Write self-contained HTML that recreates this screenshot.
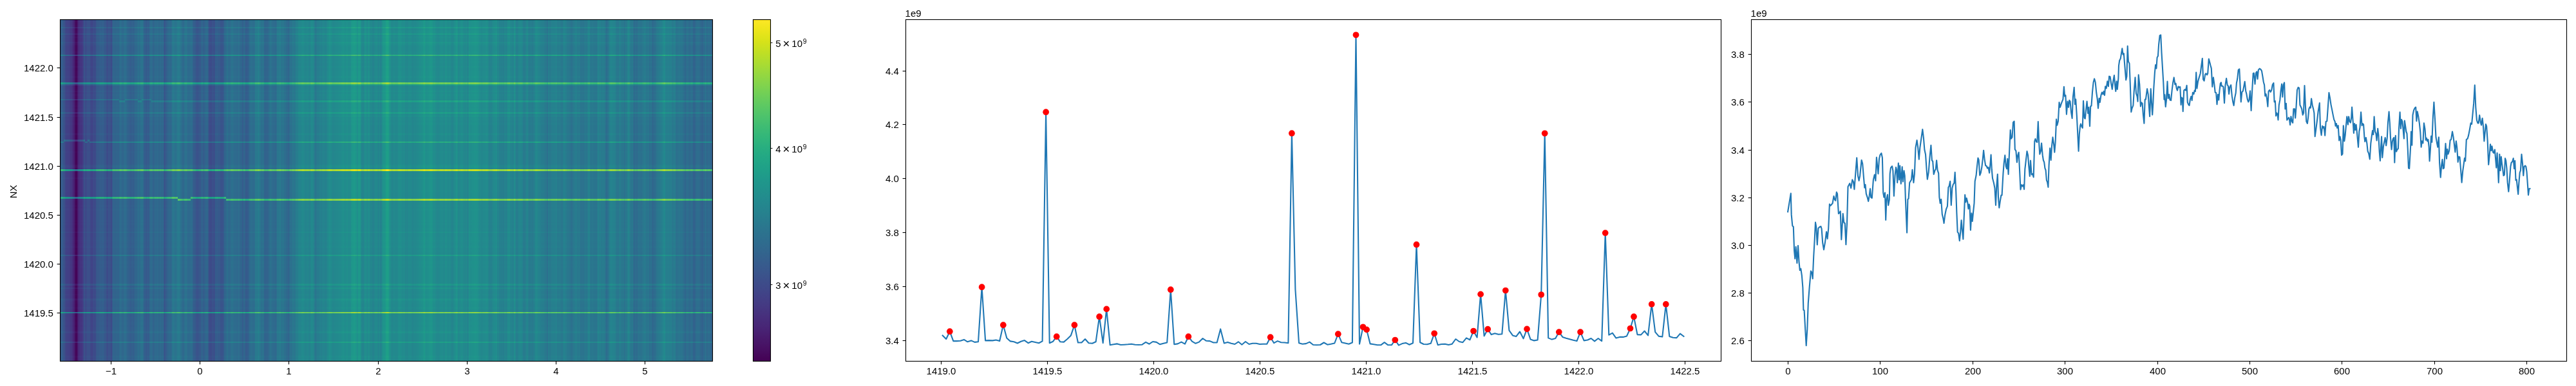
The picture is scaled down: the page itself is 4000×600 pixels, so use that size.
<!DOCTYPE html>
<html><head><meta charset="utf-8"><title>figure</title>
<style>
html,body{margin:0;padding:0;background:#fff;}
body{width:4000px;height:600px;overflow:hidden;}
svg{display:block;will-change:transform;}
text{font-family:"Liberation Sans",sans-serif;fill:#000;}
</style></head><body>
<svg width="4000" height="600" viewBox="0 0 4000 600">
<rect x="0" y="0" width="4000" height="600" fill="#ffffff"/>
<defs><filter id="vf" x="0" y="0" width="1" height="1" color-interpolation-filters="sRGB"><feColorMatrix type="matrix" values="1 1 0 0 0 1 1 0 0 0 1 1 0 0 0 0 0 0 0 1"/><feComponentTransfer><feFuncR type="table" tableValues="0.267 0.267 0.267 0.267 0.267 0.267 0.267 0.267 0.267 0.267 0.267 0.267 0.267 0.267 0.267 0.269 0.270 0.270 0.271 0.273 0.274 0.275 0.276 0.277 0.278 0.279 0.279 0.280 0.280 0.281 0.281 0.282 0.282 0.283 0.283 0.283 0.283 0.283 0.283 0.283 0.283 0.283 0.283 0.282 0.282 0.281 0.281 0.280 0.280 0.279 0.278 0.277 0.276 0.275 0.275 0.274 0.273 0.272 0.271 0.269 0.268 0.267 0.265 0.264 0.262 0.261 0.259 0.257 0.256 0.254 0.252 0.250 0.249 0.247 0.245 0.243 0.241 0.239 0.237 0.236 0.234 0.232 0.230 0.228 0.226 0.224 0.222 0.220 0.218 0.216 0.214 0.212 0.211 0.209 0.207 0.203 0.201 0.199 0.198 0.196 0.194 0.192 0.191 0.189 0.187 0.186 0.184 0.182 0.181 0.179 0.177 0.176 0.173 0.171 0.170 0.168 0.167 0.165 0.164 0.162 0.161 0.159 0.158 0.155 0.153 0.152 0.150 0.149 0.148 0.146 0.145 0.143 0.141 0.139 0.138 0.136 0.135 0.134 0.132 0.131 0.129 0.128 0.126 0.125 0.124 0.123 0.123 0.121 0.121 0.120 0.120 0.120 0.119 0.119 0.120 0.121 0.121 0.122 0.123 0.125 0.128 0.130 0.132 0.135 0.137 0.140 0.147 0.150 0.154 0.158 0.162 0.171 0.176 0.181 0.186 0.191 0.202 0.208 0.214 0.220 0.226 0.239 0.246 0.253 0.260 0.267 0.281 0.289 0.296 0.304 0.320 0.328 0.336 0.344 0.352 0.369 0.378 0.386 0.395 0.413 0.422 0.431 0.440 0.459 0.468 0.478 0.487 0.506 0.516 0.526 0.536 0.555 0.565 0.576 0.586 0.606 0.616 0.627 0.647 0.658 0.668 0.678 0.699 0.710 0.720 0.741 0.752 0.762 0.773 0.794 0.804 0.815 0.835 0.846 0.856 0.866 0.886 0.896 0.906 0.926 0.936 0.946 0.965 0.974 0.984 0.993 0.993 0.993 0.993 0.993 0.993 0.993 0.993 0.993 0.993 0.993"/><feFuncG type="table" tableValues="0.005 0.005 0.005 0.005 0.005 0.005 0.005 0.005 0.005 0.005 0.005 0.005 0.005 0.005 0.005 0.010 0.015 0.015 0.020 0.026 0.031 0.038 0.044 0.050 0.056 0.062 0.062 0.068 0.073 0.079 0.084 0.090 0.095 0.100 0.105 0.111 0.116 0.116 0.121 0.126 0.131 0.136 0.141 0.146 0.151 0.156 0.161 0.166 0.171 0.175 0.180 0.185 0.190 0.195 0.195 0.200 0.205 0.209 0.214 0.219 0.224 0.228 0.233 0.238 0.242 0.247 0.252 0.256 0.261 0.265 0.270 0.274 0.279 0.283 0.288 0.292 0.296 0.301 0.305 0.310 0.314 0.318 0.322 0.327 0.331 0.335 0.339 0.343 0.347 0.352 0.356 0.360 0.364 0.368 0.372 0.380 0.384 0.388 0.392 0.395 0.399 0.403 0.407 0.411 0.415 0.419 0.422 0.426 0.430 0.434 0.438 0.441 0.449 0.453 0.456 0.460 0.464 0.467 0.471 0.475 0.479 0.482 0.486 0.493 0.497 0.501 0.504 0.508 0.512 0.515 0.519 0.523 0.530 0.534 0.537 0.541 0.545 0.549 0.552 0.556 0.563 0.567 0.571 0.574 0.578 0.582 0.585 0.593 0.596 0.600 0.604 0.607 0.611 0.615 0.622 0.626 0.629 0.633 0.637 0.640 0.648 0.651 0.655 0.659 0.662 0.666 0.673 0.677 0.680 0.684 0.687 0.694 0.698 0.701 0.705 0.708 0.715 0.719 0.722 0.726 0.729 0.736 0.739 0.742 0.745 0.749 0.755 0.758 0.762 0.765 0.771 0.774 0.777 0.780 0.783 0.789 0.792 0.795 0.797 0.803 0.806 0.808 0.811 0.816 0.819 0.821 0.824 0.829 0.831 0.833 0.836 0.840 0.842 0.845 0.847 0.851 0.853 0.855 0.858 0.860 0.862 0.864 0.867 0.869 0.870 0.873 0.875 0.876 0.878 0.881 0.882 0.883 0.886 0.887 0.889 0.890 0.892 0.894 0.895 0.897 0.899 0.900 0.902 0.904 0.905 0.906 0.906 0.906 0.906 0.906 0.906 0.906 0.906 0.906 0.906 0.906"/><feFuncB type="table" tableValues="0.329 0.329 0.329 0.329 0.329 0.329 0.329 0.329 0.329 0.329 0.329 0.329 0.329 0.329 0.329 0.335 0.341 0.341 0.347 0.353 0.359 0.365 0.370 0.376 0.381 0.387 0.387 0.392 0.397 0.402 0.407 0.412 0.417 0.422 0.427 0.432 0.436 0.436 0.441 0.445 0.449 0.453 0.458 0.462 0.465 0.469 0.473 0.476 0.480 0.483 0.487 0.490 0.493 0.496 0.496 0.499 0.502 0.504 0.507 0.510 0.512 0.514 0.517 0.519 0.521 0.523 0.525 0.527 0.528 0.530 0.532 0.533 0.535 0.536 0.537 0.539 0.540 0.541 0.542 0.543 0.544 0.545 0.546 0.547 0.547 0.548 0.549 0.549 0.550 0.551 0.551 0.552 0.552 0.553 0.553 0.554 0.554 0.555 0.555 0.555 0.556 0.556 0.556 0.556 0.557 0.557 0.557 0.557 0.557 0.557 0.558 0.558 0.558 0.558 0.558 0.558 0.558 0.558 0.558 0.558 0.558 0.558 0.558 0.558 0.558 0.558 0.557 0.557 0.557 0.557 0.557 0.556 0.556 0.555 0.555 0.554 0.554 0.554 0.553 0.552 0.551 0.551 0.550 0.549 0.548 0.547 0.547 0.545 0.544 0.543 0.541 0.540 0.539 0.538 0.535 0.533 0.532 0.530 0.529 0.527 0.523 0.522 0.520 0.518 0.516 0.513 0.509 0.507 0.504 0.502 0.499 0.494 0.491 0.488 0.485 0.482 0.476 0.473 0.470 0.466 0.463 0.456 0.452 0.448 0.444 0.441 0.433 0.428 0.424 0.420 0.411 0.407 0.402 0.397 0.393 0.383 0.378 0.373 0.368 0.357 0.352 0.346 0.341 0.330 0.324 0.318 0.312 0.300 0.294 0.288 0.282 0.269 0.263 0.256 0.250 0.237 0.230 0.223 0.210 0.203 0.196 0.190 0.176 0.169 0.163 0.150 0.143 0.137 0.131 0.120 0.115 0.110 0.103 0.100 0.097 0.096 0.095 0.096 0.098 0.104 0.108 0.113 0.124 0.130 0.137 0.144 0.144 0.144 0.144 0.144 0.144 0.144 0.144 0.144 0.144 0.144"/><feFuncA type="linear" slope="0" intercept="1"/></feComponentTransfer></filter></defs>
<g filter="url(#vf)" style="isolation:isolate" shape-rendering="crispEdges">
<g><rect x="93.3" y="31.0" width="1013.00" height="531.0" fill="rgb(83,0,0)"/><rect x="94.56" y="31.0" width="1011.74" height="531.0" fill="rgb(86,0,0)"/><rect x="95.82" y="31.0" width="1010.48" height="531.0" fill="rgb(89,0,0)"/><rect x="97.08" y="31.0" width="1009.22" height="531.0" fill="rgb(86,0,0)"/><rect x="98.35" y="31.0" width="1007.95" height="531.0" fill="rgb(78,0,0)"/><rect x="99.61" y="31.0" width="1006.69" height="531.0" fill="rgb(75,0,0)"/><rect x="100.87" y="31.0" width="1005.43" height="531.0" fill="rgb(69,0,0)"/><rect x="102.13" y="31.0" width="1004.17" height="531.0" fill="rgb(61,0,0)"/><rect x="103.39" y="31.0" width="1002.91" height="531.0" fill="rgb(64,0,0)"/><rect x="104.65" y="31.0" width="1001.65" height="531.0" fill="rgb(60,0,0)"/><rect x="105.92" y="31.0" width="1000.38" height="531.0" fill="rgb(62,0,0)"/><rect x="108.44" y="31.0" width="997.86" height="531.0" fill="rgb(56,0,0)"/><rect x="109.70" y="31.0" width="996.60" height="531.0" fill="rgb(54,0,0)"/><rect x="110.96" y="31.0" width="995.34" height="531.0" fill="rgb(53,0,0)"/><rect x="112.22" y="31.0" width="994.08" height="531.0" fill="rgb(48,0,0)"/><rect x="113.48" y="31.0" width="992.82" height="531.0" fill="rgb(39,0,0)"/><rect x="114.75" y="31.0" width="991.55" height="531.0" fill="rgb(31,0,0)"/><rect x="116.01" y="31.0" width="990.29" height="531.0" fill="rgb(23,0,0)"/><rect x="117.27" y="31.0" width="989.03" height="531.0" fill="rgb(13,0,0)"/><rect x="118.53" y="31.0" width="987.77" height="531.0" fill="rgb(15,0,0)"/><rect x="119.79" y="31.0" width="986.51" height="531.0" fill="rgb(27,0,0)"/><rect x="121.05" y="31.0" width="985.25" height="531.0" fill="rgb(38,0,0)"/><rect x="122.31" y="31.0" width="983.99" height="531.0" fill="rgb(45,0,0)"/><rect x="123.58" y="31.0" width="982.72" height="531.0" fill="rgb(51,0,0)"/><rect x="124.84" y="31.0" width="981.46" height="531.0" fill="rgb(52,0,0)"/><rect x="126.10" y="31.0" width="980.20" height="531.0" fill="rgb(50,0,0)"/><rect x="127.36" y="31.0" width="978.94" height="531.0" fill="rgb(56,0,0)"/><rect x="128.62" y="31.0" width="977.68" height="531.0" fill="rgb(65,0,0)"/><rect x="129.88" y="31.0" width="976.42" height="531.0" fill="rgb(74,0,0)"/><rect x="131.15" y="31.0" width="975.15" height="531.0" fill="rgb(76,0,0)"/><rect x="132.41" y="31.0" width="973.89" height="531.0" fill="rgb(69,0,0)"/><rect x="133.67" y="31.0" width="972.63" height="531.0" fill="rgb(72,0,0)"/><rect x="134.93" y="31.0" width="971.37" height="531.0" fill="rgb(75,0,0)"/><rect x="138.71" y="31.0" width="967.59" height="531.0" fill="rgb(74,0,0)"/><rect x="139.98" y="31.0" width="966.32" height="531.0" fill="rgb(68,0,0)"/><rect x="141.24" y="31.0" width="965.06" height="531.0" fill="rgb(65,0,0)"/><rect x="143.76" y="31.0" width="962.54" height="531.0" fill="rgb(68,0,0)"/><rect x="145.02" y="31.0" width="961.28" height="531.0" fill="rgb(72,0,0)"/><rect x="146.28" y="31.0" width="960.02" height="531.0" fill="rgb(70,0,0)"/><rect x="147.55" y="31.0" width="958.75" height="531.0" fill="rgb(72,0,0)"/><rect x="148.81" y="31.0" width="957.49" height="531.0" fill="rgb(80,0,0)"/><rect x="150.07" y="31.0" width="956.23" height="531.0" fill="rgb(85,0,0)"/><rect x="152.59" y="31.0" width="953.71" height="531.0" fill="rgb(86,0,0)"/><rect x="155.11" y="31.0" width="951.19" height="531.0" fill="rgb(89,0,0)"/><rect x="156.38" y="31.0" width="949.92" height="531.0" fill="rgb(88,0,0)"/><rect x="157.64" y="31.0" width="948.66" height="531.0" fill="rgb(87,0,0)"/><rect x="158.90" y="31.0" width="947.40" height="531.0" fill="rgb(90,0,0)"/><rect x="161.42" y="31.0" width="944.88" height="531.0" fill="rgb(84,0,0)"/><rect x="162.68" y="31.0" width="943.62" height="531.0" fill="rgb(81,0,0)"/><rect x="163.95" y="31.0" width="942.35" height="531.0" fill="rgb(82,0,0)"/><rect x="165.21" y="31.0" width="941.09" height="531.0" fill="rgb(74,0,0)"/><rect x="166.47" y="31.0" width="939.83" height="531.0" fill="rgb(73,0,0)"/><rect x="167.73" y="31.0" width="938.57" height="531.0" fill="rgb(80,0,0)"/><rect x="168.99" y="31.0" width="937.31" height="531.0" fill="rgb(78,0,0)"/><rect x="170.25" y="31.0" width="936.05" height="531.0" fill="rgb(77,0,0)"/><rect x="171.51" y="31.0" width="934.79" height="531.0" fill="rgb(70,0,0)"/><rect x="172.78" y="31.0" width="933.52" height="531.0" fill="rgb(72,0,0)"/><rect x="174.04" y="31.0" width="932.26" height="531.0" fill="rgb(85,0,0)"/><rect x="175.30" y="31.0" width="931.00" height="531.0" fill="rgb(94,0,0)"/><rect x="179.08" y="31.0" width="927.22" height="531.0" fill="rgb(93,0,0)"/><rect x="180.34" y="31.0" width="925.96" height="531.0" fill="rgb(95,0,0)"/><rect x="181.61" y="31.0" width="924.69" height="531.0" fill="rgb(96,0,0)"/><rect x="182.87" y="31.0" width="923.43" height="531.0" fill="rgb(94,0,0)"/><rect x="184.13" y="31.0" width="922.17" height="531.0" fill="rgb(95,0,0)"/><rect x="185.39" y="31.0" width="920.91" height="531.0" fill="rgb(100,0,0)"/><rect x="186.65" y="31.0" width="919.65" height="531.0" fill="rgb(105,0,0)"/><rect x="187.91" y="31.0" width="918.39" height="531.0" fill="rgb(100,0,0)"/><rect x="189.18" y="31.0" width="917.12" height="531.0" fill="rgb(97,0,0)"/><rect x="191.70" y="31.0" width="914.60" height="531.0" fill="rgb(100,0,0)"/><rect x="192.96" y="31.0" width="913.34" height="531.0" fill="rgb(103,0,0)"/><rect x="194.22" y="31.0" width="912.08" height="531.0" fill="rgb(104,0,0)"/><rect x="195.48" y="31.0" width="910.82" height="531.0" fill="rgb(100,0,0)"/><rect x="196.74" y="31.0" width="909.56" height="531.0" fill="rgb(95,0,0)"/><rect x="198.01" y="31.0" width="908.29" height="531.0" fill="rgb(93,0,0)"/><rect x="199.27" y="31.0" width="907.03" height="531.0" fill="rgb(92,0,0)"/><rect x="200.53" y="31.0" width="905.77" height="531.0" fill="rgb(89,0,0)"/><rect x="201.79" y="31.0" width="904.51" height="531.0" fill="rgb(88,0,0)"/><rect x="204.31" y="31.0" width="901.99" height="531.0" fill="rgb(90,0,0)"/><rect x="205.58" y="31.0" width="900.72" height="531.0" fill="rgb(91,0,0)"/><rect x="206.84" y="31.0" width="899.46" height="531.0" fill="rgb(88,0,0)"/><rect x="208.10" y="31.0" width="898.20" height="531.0" fill="rgb(91,0,0)"/><rect x="209.36" y="31.0" width="896.94" height="531.0" fill="rgb(96,0,0)"/><rect x="210.62" y="31.0" width="895.68" height="531.0" fill="rgb(98,0,0)"/><rect x="211.88" y="31.0" width="894.42" height="531.0" fill="rgb(97,0,0)"/><rect x="213.14" y="31.0" width="893.16" height="531.0" fill="rgb(101,0,0)"/><rect x="214.41" y="31.0" width="891.89" height="531.0" fill="rgb(104,0,0)"/><rect x="215.67" y="31.0" width="890.63" height="531.0" fill="rgb(100,0,0)"/><rect x="216.93" y="31.0" width="889.37" height="531.0" fill="rgb(103,0,0)"/><rect x="218.19" y="31.0" width="888.11" height="531.0" fill="rgb(106,0,0)"/><rect x="219.45" y="31.0" width="886.85" height="531.0" fill="rgb(107,0,0)"/><rect x="221.97" y="31.0" width="884.33" height="531.0" fill="rgb(103,0,0)"/><rect x="223.24" y="31.0" width="883.06" height="531.0" fill="rgb(90,0,0)"/><rect x="224.50" y="31.0" width="881.80" height="531.0" fill="rgb(89,0,0)"/><rect x="225.76" y="31.0" width="880.54" height="531.0" fill="rgb(86,0,0)"/><rect x="227.02" y="31.0" width="879.28" height="531.0" fill="rgb(84,0,0)"/><rect x="228.28" y="31.0" width="878.02" height="531.0" fill="rgb(89,0,0)"/><rect x="229.54" y="31.0" width="876.76" height="531.0" fill="rgb(87,0,0)"/><rect x="232.07" y="31.0" width="874.23" height="531.0" fill="rgb(98,0,0)"/><rect x="233.33" y="31.0" width="872.97" height="531.0" fill="rgb(101,0,0)"/><rect x="234.59" y="31.0" width="871.71" height="531.0" fill="rgb(102,0,0)"/><rect x="235.85" y="31.0" width="870.45" height="531.0" fill="rgb(101,0,0)"/><rect x="237.11" y="31.0" width="869.19" height="531.0" fill="rgb(93,0,0)"/><rect x="238.37" y="31.0" width="867.93" height="531.0" fill="rgb(94,0,0)"/><rect x="239.64" y="31.0" width="866.66" height="531.0" fill="rgb(100,0,0)"/><rect x="240.90" y="31.0" width="865.40" height="531.0" fill="rgb(101,0,0)"/><rect x="242.16" y="31.0" width="864.14" height="531.0" fill="rgb(95,0,0)"/><rect x="243.42" y="31.0" width="862.88" height="531.0" fill="rgb(102,0,0)"/><rect x="244.68" y="31.0" width="861.62" height="531.0" fill="rgb(96,0,0)"/><rect x="245.94" y="31.0" width="860.36" height="531.0" fill="rgb(101,0,0)"/><rect x="247.21" y="31.0" width="859.09" height="531.0" fill="rgb(95,0,0)"/><rect x="248.47" y="31.0" width="857.83" height="531.0" fill="rgb(100,0,0)"/><rect x="249.73" y="31.0" width="856.57" height="531.0" fill="rgb(96,0,0)"/><rect x="250.99" y="31.0" width="855.31" height="531.0" fill="rgb(99,0,0)"/><rect x="252.25" y="31.0" width="854.05" height="531.0" fill="rgb(98,0,0)"/><rect x="253.51" y="31.0" width="852.79" height="531.0" fill="rgb(87,0,0)"/><rect x="254.77" y="31.0" width="851.53" height="531.0" fill="rgb(77,0,0)"/><rect x="256.04" y="31.0" width="850.26" height="531.0" fill="rgb(82,0,0)"/><rect x="257.30" y="31.0" width="849.00" height="531.0" fill="rgb(88,0,0)"/><rect x="258.56" y="31.0" width="847.74" height="531.0" fill="rgb(93,0,0)"/><rect x="259.82" y="31.0" width="846.48" height="531.0" fill="rgb(95,0,0)"/><rect x="261.08" y="31.0" width="845.22" height="531.0" fill="rgb(96,0,0)"/><rect x="262.34" y="31.0" width="843.96" height="531.0" fill="rgb(99,0,0)"/><rect x="263.61" y="31.0" width="842.69" height="531.0" fill="rgb(98,0,0)"/><rect x="264.87" y="31.0" width="841.43" height="531.0" fill="rgb(96,0,0)"/><rect x="266.13" y="31.0" width="840.17" height="531.0" fill="rgb(102,0,0)"/><rect x="267.39" y="31.0" width="838.91" height="531.0" fill="rgb(110,0,0)"/><rect x="268.65" y="31.0" width="837.65" height="531.0" fill="rgb(112,0,0)"/><rect x="269.91" y="31.0" width="836.39" height="531.0" fill="rgb(111,0,0)"/><rect x="271.17" y="31.0" width="835.13" height="531.0" fill="rgb(107,0,0)"/><rect x="273.70" y="31.0" width="832.60" height="531.0" fill="rgb(111,0,0)"/><rect x="274.96" y="31.0" width="831.34" height="531.0" fill="rgb(113,0,0)"/><rect x="276.22" y="31.0" width="830.08" height="531.0" fill="rgb(116,0,0)"/><rect x="277.48" y="31.0" width="828.82" height="531.0" fill="rgb(115,0,0)"/><rect x="278.74" y="31.0" width="827.56" height="531.0" fill="rgb(111,0,0)"/><rect x="280.00" y="31.0" width="826.30" height="531.0" fill="rgb(108,0,0)"/><rect x="281.27" y="31.0" width="825.03" height="531.0" fill="rgb(105,0,0)"/><rect x="282.53" y="31.0" width="823.77" height="531.0" fill="rgb(99,0,0)"/><rect x="283.79" y="31.0" width="822.51" height="531.0" fill="rgb(97,0,0)"/><rect x="285.05" y="31.0" width="821.25" height="531.0" fill="rgb(100,0,0)"/><rect x="286.31" y="31.0" width="819.99" height="531.0" fill="rgb(105,0,0)"/><rect x="287.57" y="31.0" width="818.73" height="531.0" fill="rgb(109,0,0)"/><rect x="288.84" y="31.0" width="817.46" height="531.0" fill="rgb(107,0,0)"/><rect x="290.10" y="31.0" width="816.20" height="531.0" fill="rgb(104,0,0)"/><rect x="291.36" y="31.0" width="814.94" height="531.0" fill="rgb(101,0,0)"/><rect x="292.62" y="31.0" width="813.68" height="531.0" fill="rgb(99,0,0)"/><rect x="293.88" y="31.0" width="812.42" height="531.0" fill="rgb(100,0,0)"/><rect x="295.14" y="31.0" width="811.16" height="531.0" fill="rgb(102,0,0)"/><rect x="296.40" y="31.0" width="809.90" height="531.0" fill="rgb(103,0,0)"/><rect x="297.67" y="31.0" width="808.63" height="531.0" fill="rgb(100,0,0)"/><rect x="298.93" y="31.0" width="807.37" height="531.0" fill="rgb(95,0,0)"/><rect x="300.19" y="31.0" width="806.11" height="531.0" fill="rgb(87,0,0)"/><rect x="302.71" y="31.0" width="803.59" height="531.0" fill="rgb(85,0,0)"/><rect x="303.97" y="31.0" width="802.33" height="531.0" fill="rgb(80,0,0)"/><rect x="305.24" y="31.0" width="801.06" height="531.0" fill="rgb(78,0,0)"/><rect x="307.76" y="31.0" width="798.54" height="531.0" fill="rgb(81,0,0)"/><rect x="309.02" y="31.0" width="797.28" height="531.0" fill="rgb(83,0,0)"/><rect x="310.28" y="31.0" width="796.02" height="531.0" fill="rgb(84,0,0)"/><rect x="311.54" y="31.0" width="794.76" height="531.0" fill="rgb(91,0,0)"/><rect x="312.80" y="31.0" width="793.50" height="531.0" fill="rgb(93,0,0)"/><rect x="314.07" y="31.0" width="792.23" height="531.0" fill="rgb(95,0,0)"/><rect x="315.33" y="31.0" width="790.97" height="531.0" fill="rgb(88,0,0)"/><rect x="316.59" y="31.0" width="789.71" height="531.0" fill="rgb(90,0,0)"/><rect x="317.85" y="31.0" width="788.45" height="531.0" fill="rgb(94,0,0)"/><rect x="319.11" y="31.0" width="787.19" height="531.0" fill="rgb(95,0,0)"/><rect x="320.37" y="31.0" width="785.93" height="531.0" fill="rgb(97,0,0)"/><rect x="321.63" y="31.0" width="784.67" height="531.0" fill="rgb(95,0,0)"/><rect x="322.90" y="31.0" width="783.40" height="531.0" fill="rgb(86,0,0)"/><rect x="324.16" y="31.0" width="782.14" height="531.0" fill="rgb(75,0,0)"/><rect x="325.42" y="31.0" width="780.88" height="531.0" fill="rgb(72,0,0)"/><rect x="326.68" y="31.0" width="779.62" height="531.0" fill="rgb(70,0,0)"/><rect x="327.94" y="31.0" width="778.36" height="531.0" fill="rgb(71,0,0)"/><rect x="329.20" y="31.0" width="777.10" height="531.0" fill="rgb(76,0,0)"/><rect x="330.47" y="31.0" width="775.83" height="531.0" fill="rgb(75,0,0)"/><rect x="331.73" y="31.0" width="774.57" height="531.0" fill="rgb(71,0,0)"/><rect x="332.99" y="31.0" width="773.31" height="531.0" fill="rgb(77,0,0)"/><rect x="334.25" y="31.0" width="772.05" height="531.0" fill="rgb(87,0,0)"/><rect x="336.77" y="31.0" width="769.53" height="531.0" fill="rgb(88,0,0)"/><rect x="338.03" y="31.0" width="768.27" height="531.0" fill="rgb(87,0,0)"/><rect x="339.30" y="31.0" width="767.00" height="531.0" fill="rgb(84,0,0)"/><rect x="340.56" y="31.0" width="765.74" height="531.0" fill="rgb(85,0,0)"/><rect x="341.82" y="31.0" width="764.48" height="531.0" fill="rgb(78,0,0)"/><rect x="344.34" y="31.0" width="761.96" height="531.0" fill="rgb(79,0,0)"/><rect x="345.60" y="31.0" width="760.70" height="531.0" fill="rgb(81,0,0)"/><rect x="346.87" y="31.0" width="759.43" height="531.0" fill="rgb(85,0,0)"/><rect x="348.13" y="31.0" width="758.17" height="531.0" fill="rgb(95,0,0)"/><rect x="349.39" y="31.0" width="756.91" height="531.0" fill="rgb(97,0,0)"/><rect x="350.65" y="31.0" width="755.65" height="531.0" fill="rgb(100,0,0)"/><rect x="351.91" y="31.0" width="754.39" height="531.0" fill="rgb(104,0,0)"/><rect x="353.17" y="31.0" width="753.13" height="531.0" fill="rgb(105,0,0)"/><rect x="354.43" y="31.0" width="751.87" height="531.0" fill="rgb(100,0,0)"/><rect x="355.70" y="31.0" width="750.60" height="531.0" fill="rgb(99,0,0)"/><rect x="356.96" y="31.0" width="749.34" height="531.0" fill="rgb(101,0,0)"/><rect x="358.22" y="31.0" width="748.08" height="531.0" fill="rgb(103,0,0)"/><rect x="359.48" y="31.0" width="746.82" height="531.0" fill="rgb(107,0,0)"/><rect x="360.74" y="31.0" width="745.56" height="531.0" fill="rgb(106,0,0)"/><rect x="362.00" y="31.0" width="744.30" height="531.0" fill="rgb(104,0,0)"/><rect x="363.27" y="31.0" width="743.03" height="531.0" fill="rgb(102,0,0)"/><rect x="365.79" y="31.0" width="740.51" height="531.0" fill="rgb(101,0,0)"/><rect x="368.31" y="31.0" width="737.99" height="531.0" fill="rgb(100,0,0)"/><rect x="369.57" y="31.0" width="736.73" height="531.0" fill="rgb(105,0,0)"/><rect x="370.83" y="31.0" width="735.47" height="531.0" fill="rgb(103,0,0)"/><rect x="372.10" y="31.0" width="734.20" height="531.0" fill="rgb(98,0,0)"/><rect x="373.36" y="31.0" width="732.94" height="531.0" fill="rgb(96,0,0)"/><rect x="374.62" y="31.0" width="731.68" height="531.0" fill="rgb(94,0,0)"/><rect x="375.88" y="31.0" width="730.42" height="531.0" fill="rgb(89,0,0)"/><rect x="378.40" y="31.0" width="727.90" height="531.0" fill="rgb(96,0,0)"/><rect x="379.66" y="31.0" width="726.64" height="531.0" fill="rgb(94,0,0)"/><rect x="380.93" y="31.0" width="725.37" height="531.0" fill="rgb(86,0,0)"/><rect x="383.45" y="31.0" width="722.85" height="531.0" fill="rgb(88,0,0)"/><rect x="384.71" y="31.0" width="721.59" height="531.0" fill="rgb(90,0,0)"/><rect x="385.97" y="31.0" width="720.33" height="531.0" fill="rgb(94,0,0)"/><rect x="387.23" y="31.0" width="719.07" height="531.0" fill="rgb(101,0,0)"/><rect x="388.50" y="31.0" width="717.80" height="531.0" fill="rgb(105,0,0)"/><rect x="391.02" y="31.0" width="715.28" height="531.0" fill="rgb(102,0,0)"/><rect x="392.28" y="31.0" width="714.02" height="531.0" fill="rgb(103,0,0)"/><rect x="393.54" y="31.0" width="712.76" height="531.0" fill="rgb(101,0,0)"/><rect x="394.80" y="31.0" width="711.50" height="531.0" fill="rgb(105,0,0)"/><rect x="396.06" y="31.0" width="710.24" height="531.0" fill="rgb(113,0,0)"/><rect x="397.33" y="31.0" width="708.97" height="531.0" fill="rgb(114,0,0)"/><rect x="398.59" y="31.0" width="707.71" height="531.0" fill="rgb(113,0,0)"/><rect x="399.85" y="31.0" width="706.45" height="531.0" fill="rgb(117,0,0)"/><rect x="401.11" y="31.0" width="705.19" height="531.0" fill="rgb(120,0,0)"/><rect x="402.37" y="31.0" width="703.93" height="531.0" fill="rgb(114,0,0)"/><rect x="403.63" y="31.0" width="702.67" height="531.0" fill="rgb(109,0,0)"/><rect x="404.90" y="31.0" width="701.40" height="531.0" fill="rgb(106,0,0)"/><rect x="406.16" y="31.0" width="700.14" height="531.0" fill="rgb(105,0,0)"/><rect x="407.42" y="31.0" width="698.88" height="531.0" fill="rgb(107,0,0)"/><rect x="408.68" y="31.0" width="697.62" height="531.0" fill="rgb(104,0,0)"/><rect x="409.94" y="31.0" width="696.36" height="531.0" fill="rgb(96,0,0)"/><rect x="411.20" y="31.0" width="695.10" height="531.0" fill="rgb(93,0,0)"/><rect x="412.46" y="31.0" width="693.84" height="531.0" fill="rgb(94,0,0)"/><rect x="414.99" y="31.0" width="691.31" height="531.0" fill="rgb(93,0,0)"/><rect x="416.25" y="31.0" width="690.05" height="531.0" fill="rgb(98,0,0)"/><rect x="417.51" y="31.0" width="688.79" height="531.0" fill="rgb(103,0,0)"/><rect x="418.77" y="31.0" width="687.53" height="531.0" fill="rgb(107,0,0)"/><rect x="421.30" y="31.0" width="685.00" height="531.0" fill="rgb(104,0,0)"/><rect x="422.56" y="31.0" width="683.74" height="531.0" fill="rgb(100,0,0)"/><rect x="423.82" y="31.0" width="682.48" height="531.0" fill="rgb(102,0,0)"/><rect x="425.08" y="31.0" width="681.22" height="531.0" fill="rgb(101,0,0)"/><rect x="426.34" y="31.0" width="679.96" height="531.0" fill="rgb(99,0,0)"/><rect x="427.60" y="31.0" width="678.70" height="531.0" fill="rgb(98,0,0)"/><rect x="428.86" y="31.0" width="677.44" height="531.0" fill="rgb(104,0,0)"/><rect x="430.13" y="31.0" width="676.17" height="531.0" fill="rgb(112,0,0)"/><rect x="433.91" y="31.0" width="672.39" height="531.0" fill="rgb(116,0,0)"/><rect x="435.17" y="31.0" width="671.13" height="531.0" fill="rgb(115,0,0)"/><rect x="436.43" y="31.0" width="669.87" height="531.0" fill="rgb(108,0,0)"/><rect x="438.96" y="31.0" width="667.34" height="531.0" fill="rgb(111,0,0)"/><rect x="440.22" y="31.0" width="666.08" height="531.0" fill="rgb(108,0,0)"/><rect x="441.48" y="31.0" width="664.82" height="531.0" fill="rgb(105,0,0)"/><rect x="442.74" y="31.0" width="663.56" height="531.0" fill="rgb(104,0,0)"/><rect x="444.00" y="31.0" width="662.30" height="531.0" fill="rgb(101,0,0)"/><rect x="445.26" y="31.0" width="661.04" height="531.0" fill="rgb(99,0,0)"/><rect x="446.53" y="31.0" width="659.77" height="531.0" fill="rgb(96,0,0)"/><rect x="447.79" y="31.0" width="658.51" height="531.0" fill="rgb(94,0,0)"/><rect x="449.05" y="31.0" width="657.25" height="531.0" fill="rgb(100,0,0)"/><rect x="450.31" y="31.0" width="655.99" height="531.0" fill="rgb(107,0,0)"/><rect x="451.57" y="31.0" width="654.73" height="531.0" fill="rgb(106,0,0)"/><rect x="452.83" y="31.0" width="653.47" height="531.0" fill="rgb(108,0,0)"/><rect x="454.09" y="31.0" width="652.21" height="531.0" fill="rgb(113,0,0)"/><rect x="455.36" y="31.0" width="650.94" height="531.0" fill="rgb(112,0,0)"/><rect x="456.62" y="31.0" width="649.68" height="531.0" fill="rgb(109,0,0)"/><rect x="457.88" y="31.0" width="648.42" height="531.0" fill="rgb(111,0,0)"/><rect x="459.14" y="31.0" width="647.16" height="531.0" fill="rgb(119,0,0)"/><rect x="461.66" y="31.0" width="644.64" height="531.0" fill="rgb(120,0,0)"/><rect x="462.93" y="31.0" width="643.37" height="531.0" fill="rgb(125,0,0)"/><rect x="464.19" y="31.0" width="642.11" height="531.0" fill="rgb(126,0,0)"/><rect x="466.71" y="31.0" width="639.59" height="531.0" fill="rgb(127,0,0)"/><rect x="467.97" y="31.0" width="638.33" height="531.0" fill="rgb(128,0,0)"/><rect x="469.23" y="31.0" width="637.07" height="531.0" fill="rgb(131,0,0)"/><rect x="470.49" y="31.0" width="635.81" height="531.0" fill="rgb(130,0,0)"/><rect x="471.76" y="31.0" width="634.54" height="531.0" fill="rgb(129,0,0)"/><rect x="473.02" y="31.0" width="633.28" height="531.0" fill="rgb(124,0,0)"/><rect x="474.28" y="31.0" width="632.02" height="531.0" fill="rgb(126,0,0)"/><rect x="476.80" y="31.0" width="629.50" height="531.0" fill="rgb(127,0,0)"/><rect x="479.32" y="31.0" width="626.98" height="531.0" fill="rgb(124,0,0)"/><rect x="480.59" y="31.0" width="625.71" height="531.0" fill="rgb(122,0,0)"/><rect x="481.85" y="31.0" width="624.45" height="531.0" fill="rgb(127,0,0)"/><rect x="483.11" y="31.0" width="623.19" height="531.0" fill="rgb(131,0,0)"/><rect x="484.37" y="31.0" width="621.93" height="531.0" fill="rgb(129,0,0)"/><rect x="485.63" y="31.0" width="620.67" height="531.0" fill="rgb(127,0,0)"/><rect x="486.89" y="31.0" width="619.41" height="531.0" fill="rgb(124,0,0)"/><rect x="488.16" y="31.0" width="618.14" height="531.0" fill="rgb(117,0,0)"/><rect x="489.42" y="31.0" width="616.88" height="531.0" fill="rgb(110,0,0)"/><rect x="490.68" y="31.0" width="615.62" height="531.0" fill="rgb(114,0,0)"/><rect x="491.94" y="31.0" width="614.36" height="531.0" fill="rgb(118,0,0)"/><rect x="495.72" y="31.0" width="610.58" height="531.0" fill="rgb(122,0,0)"/><rect x="496.99" y="31.0" width="609.31" height="531.0" fill="rgb(124,0,0)"/><rect x="498.25" y="31.0" width="608.05" height="531.0" fill="rgb(121,0,0)"/><rect x="499.51" y="31.0" width="606.79" height="531.0" fill="rgb(123,0,0)"/><rect x="500.77" y="31.0" width="605.53" height="531.0" fill="rgb(126,0,0)"/><rect x="502.03" y="31.0" width="604.27" height="531.0" fill="rgb(125,0,0)"/><rect x="503.29" y="31.0" width="603.01" height="531.0" fill="rgb(124,0,0)"/><rect x="504.56" y="31.0" width="601.74" height="531.0" fill="rgb(121,0,0)"/><rect x="505.82" y="31.0" width="600.48" height="531.0" fill="rgb(123,0,0)"/><rect x="507.08" y="31.0" width="599.22" height="531.0" fill="rgb(126,0,0)"/><rect x="508.34" y="31.0" width="597.96" height="531.0" fill="rgb(130,0,0)"/><rect x="509.60" y="31.0" width="596.70" height="531.0" fill="rgb(133,0,0)"/><rect x="510.86" y="31.0" width="595.44" height="531.0" fill="rgb(135,0,0)"/><rect x="513.39" y="31.0" width="592.91" height="531.0" fill="rgb(132,0,0)"/><rect x="514.65" y="31.0" width="591.65" height="531.0" fill="rgb(130,0,0)"/><rect x="515.91" y="31.0" width="590.39" height="531.0" fill="rgb(127,0,0)"/><rect x="517.17" y="31.0" width="589.13" height="531.0" fill="rgb(126,0,0)"/><rect x="518.43" y="31.0" width="587.87" height="531.0" fill="rgb(128,0,0)"/><rect x="520.96" y="31.0" width="585.34" height="531.0" fill="rgb(130,0,0)"/><rect x="526.00" y="31.0" width="580.30" height="531.0" fill="rgb(132,0,0)"/><rect x="528.52" y="31.0" width="577.78" height="531.0" fill="rgb(133,0,0)"/><rect x="529.79" y="31.0" width="576.51" height="531.0" fill="rgb(134,0,0)"/><rect x="531.05" y="31.0" width="575.25" height="531.0" fill="rgb(135,0,0)"/><rect x="532.31" y="31.0" width="573.99" height="531.0" fill="rgb(136,0,0)"/><rect x="533.57" y="31.0" width="572.73" height="531.0" fill="rgb(135,0,0)"/><rect x="534.83" y="31.0" width="571.47" height="531.0" fill="rgb(133,0,0)"/><rect x="537.35" y="31.0" width="568.95" height="531.0" fill="rgb(135,0,0)"/><rect x="538.62" y="31.0" width="567.68" height="531.0" fill="rgb(136,0,0)"/><rect x="539.88" y="31.0" width="566.42" height="531.0" fill="rgb(133,0,0)"/><rect x="543.66" y="31.0" width="562.64" height="531.0" fill="rgb(134,0,0)"/><rect x="544.92" y="31.0" width="561.38" height="531.0" fill="rgb(140,0,0)"/><rect x="546.19" y="31.0" width="560.11" height="531.0" fill="rgb(142,0,0)"/><rect x="547.45" y="31.0" width="558.85" height="531.0" fill="rgb(143,0,0)"/><rect x="548.71" y="31.0" width="557.59" height="531.0" fill="rgb(145,0,0)"/><rect x="551.23" y="31.0" width="555.07" height="531.0" fill="rgb(144,0,0)"/><rect x="552.49" y="31.0" width="553.81" height="531.0" fill="rgb(141,0,0)"/><rect x="553.75" y="31.0" width="552.55" height="531.0" fill="rgb(137,0,0)"/><rect x="555.02" y="31.0" width="551.28" height="531.0" fill="rgb(136,0,0)"/><rect x="556.28" y="31.0" width="550.02" height="531.0" fill="rgb(143,0,0)"/><rect x="558.80" y="31.0" width="547.50" height="531.0" fill="rgb(141,0,0)"/><rect x="560.06" y="31.0" width="546.24" height="531.0" fill="rgb(135,0,0)"/><rect x="561.32" y="31.0" width="544.98" height="531.0" fill="rgb(126,0,0)"/><rect x="562.59" y="31.0" width="543.71" height="531.0" fill="rgb(125,0,0)"/><rect x="565.11" y="31.0" width="541.19" height="531.0" fill="rgb(129,0,0)"/><rect x="566.37" y="31.0" width="539.93" height="531.0" fill="rgb(134,0,0)"/><rect x="568.89" y="31.0" width="537.41" height="531.0" fill="rgb(130,0,0)"/><rect x="570.15" y="31.0" width="536.15" height="531.0" fill="rgb(128,0,0)"/><rect x="571.42" y="31.0" width="534.88" height="531.0" fill="rgb(134,0,0)"/><rect x="573.94" y="31.0" width="532.36" height="531.0" fill="rgb(129,0,0)"/><rect x="575.20" y="31.0" width="531.10" height="531.0" fill="rgb(126,0,0)"/><rect x="576.46" y="31.0" width="529.84" height="531.0" fill="rgb(127,0,0)"/><rect x="577.72" y="31.0" width="528.58" height="531.0" fill="rgb(124,0,0)"/><rect x="578.98" y="31.0" width="527.32" height="531.0" fill="rgb(120,0,0)"/><rect x="580.25" y="31.0" width="526.05" height="531.0" fill="rgb(126,0,0)"/><rect x="581.51" y="31.0" width="524.79" height="531.0" fill="rgb(128,0,0)"/><rect x="582.77" y="31.0" width="523.53" height="531.0" fill="rgb(130,0,0)"/><rect x="584.03" y="31.0" width="522.27" height="531.0" fill="rgb(131,0,0)"/><rect x="585.29" y="31.0" width="521.01" height="531.0" fill="rgb(128,0,0)"/><rect x="586.55" y="31.0" width="519.75" height="531.0" fill="rgb(123,0,0)"/><rect x="587.82" y="31.0" width="518.48" height="531.0" fill="rgb(128,0,0)"/><rect x="589.08" y="31.0" width="517.22" height="531.0" fill="rgb(129,0,0)"/><rect x="590.34" y="31.0" width="515.96" height="531.0" fill="rgb(123,0,0)"/><rect x="591.60" y="31.0" width="514.70" height="531.0" fill="rgb(127,0,0)"/><rect x="592.86" y="31.0" width="513.44" height="531.0" fill="rgb(133,0,0)"/><rect x="594.12" y="31.0" width="512.18" height="531.0" fill="rgb(138,0,0)"/><rect x="595.38" y="31.0" width="510.92" height="531.0" fill="rgb(140,0,0)"/><rect x="596.65" y="31.0" width="509.65" height="531.0" fill="rgb(141,0,0)"/><rect x="597.91" y="31.0" width="508.39" height="531.0" fill="rgb(143,0,0)"/><rect x="599.17" y="31.0" width="507.13" height="531.0" fill="rgb(147,0,0)"/><rect x="600.43" y="31.0" width="505.87" height="531.0" fill="rgb(150,0,0)"/><rect x="602.95" y="31.0" width="503.35" height="531.0" fill="rgb(146,0,0)"/><rect x="604.22" y="31.0" width="502.08" height="531.0" fill="rgb(140,0,0)"/><rect x="605.48" y="31.0" width="500.82" height="531.0" fill="rgb(135,0,0)"/><rect x="606.74" y="31.0" width="499.56" height="531.0" fill="rgb(128,0,0)"/><rect x="609.26" y="31.0" width="497.04" height="531.0" fill="rgb(127,0,0)"/><rect x="610.52" y="31.0" width="495.78" height="531.0" fill="rgb(132,0,0)"/><rect x="611.78" y="31.0" width="494.52" height="531.0" fill="rgb(130,0,0)"/><rect x="613.05" y="31.0" width="493.25" height="531.0" fill="rgb(129,0,0)"/><rect x="614.31" y="31.0" width="491.99" height="531.0" fill="rgb(128,0,0)"/><rect x="616.83" y="31.0" width="489.47" height="531.0" fill="rgb(130,0,0)"/><rect x="618.09" y="31.0" width="488.21" height="531.0" fill="rgb(133,0,0)"/><rect x="619.35" y="31.0" width="486.95" height="531.0" fill="rgb(135,0,0)"/><rect x="621.88" y="31.0" width="484.42" height="531.0" fill="rgb(134,0,0)"/><rect x="623.14" y="31.0" width="483.16" height="531.0" fill="rgb(133,0,0)"/><rect x="624.40" y="31.0" width="481.90" height="531.0" fill="rgb(131,0,0)"/><rect x="625.66" y="31.0" width="480.64" height="531.0" fill="rgb(132,0,0)"/><rect x="629.45" y="31.0" width="476.85" height="531.0" fill="rgb(127,0,0)"/><rect x="630.71" y="31.0" width="475.59" height="531.0" fill="rgb(129,0,0)"/><rect x="631.97" y="31.0" width="474.33" height="531.0" fill="rgb(126,0,0)"/><rect x="633.23" y="31.0" width="473.07" height="531.0" fill="rgb(128,0,0)"/><rect x="634.49" y="31.0" width="471.81" height="531.0" fill="rgb(131,0,0)"/><rect x="637.01" y="31.0" width="469.29" height="531.0" fill="rgb(132,0,0)"/><rect x="638.28" y="31.0" width="468.02" height="531.0" fill="rgb(129,0,0)"/><rect x="639.54" y="31.0" width="466.76" height="531.0" fill="rgb(126,0,0)"/><rect x="642.06" y="31.0" width="464.24" height="531.0" fill="rgb(128,0,0)"/><rect x="643.32" y="31.0" width="462.98" height="531.0" fill="rgb(129,0,0)"/><rect x="644.58" y="31.0" width="461.72" height="531.0" fill="rgb(128,0,0)"/><rect x="645.85" y="31.0" width="460.45" height="531.0" fill="rgb(130,0,0)"/><rect x="648.37" y="31.0" width="457.93" height="531.0" fill="rgb(131,0,0)"/><rect x="649.63" y="31.0" width="456.67" height="531.0" fill="rgb(133,0,0)"/><rect x="650.89" y="31.0" width="455.41" height="531.0" fill="rgb(135,0,0)"/><rect x="652.15" y="31.0" width="454.15" height="531.0" fill="rgb(133,0,0)"/><rect x="653.41" y="31.0" width="452.89" height="531.0" fill="rgb(135,0,0)"/><rect x="654.68" y="31.0" width="451.62" height="531.0" fill="rgb(136,0,0)"/><rect x="655.94" y="31.0" width="450.36" height="531.0" fill="rgb(137,0,0)"/><rect x="657.20" y="31.0" width="449.10" height="531.0" fill="rgb(139,0,0)"/><rect x="658.46" y="31.0" width="447.84" height="531.0" fill="rgb(142,0,0)"/><rect x="659.72" y="31.0" width="446.58" height="531.0" fill="rgb(137,0,0)"/><rect x="660.98" y="31.0" width="445.32" height="531.0" fill="rgb(135,0,0)"/><rect x="662.25" y="31.0" width="444.05" height="531.0" fill="rgb(136,0,0)"/><rect x="663.51" y="31.0" width="442.79" height="531.0" fill="rgb(137,0,0)"/><rect x="667.29" y="31.0" width="439.01" height="531.0" fill="rgb(141,0,0)"/><rect x="669.81" y="31.0" width="436.49" height="531.0" fill="rgb(140,0,0)"/><rect x="671.08" y="31.0" width="435.22" height="531.0" fill="rgb(139,0,0)"/><rect x="672.34" y="31.0" width="433.96" height="531.0" fill="rgb(134,0,0)"/><rect x="673.60" y="31.0" width="432.70" height="531.0" fill="rgb(135,0,0)"/><rect x="674.86" y="31.0" width="431.44" height="531.0" fill="rgb(134,0,0)"/><rect x="676.12" y="31.0" width="430.18" height="531.0" fill="rgb(131,0,0)"/><rect x="677.38" y="31.0" width="428.92" height="531.0" fill="rgb(130,0,0)"/><rect x="678.64" y="31.0" width="427.66" height="531.0" fill="rgb(127,0,0)"/><rect x="679.91" y="31.0" width="426.39" height="531.0" fill="rgb(129,0,0)"/><rect x="681.17" y="31.0" width="425.13" height="531.0" fill="rgb(128,0,0)"/><rect x="682.43" y="31.0" width="423.87" height="531.0" fill="rgb(131,0,0)"/><rect x="683.69" y="31.0" width="422.61" height="531.0" fill="rgb(134,0,0)"/><rect x="684.95" y="31.0" width="421.35" height="531.0" fill="rgb(133,0,0)"/><rect x="687.48" y="31.0" width="418.82" height="531.0" fill="rgb(132,0,0)"/><rect x="688.74" y="31.0" width="417.56" height="531.0" fill="rgb(128,0,0)"/><rect x="690.00" y="31.0" width="416.30" height="531.0" fill="rgb(132,0,0)"/><rect x="691.26" y="31.0" width="415.04" height="531.0" fill="rgb(135,0,0)"/><rect x="692.52" y="31.0" width="413.78" height="531.0" fill="rgb(134,0,0)"/><rect x="693.78" y="31.0" width="412.52" height="531.0" fill="rgb(133,0,0)"/><rect x="695.04" y="31.0" width="411.26" height="531.0" fill="rgb(130,0,0)"/><rect x="696.31" y="31.0" width="409.99" height="531.0" fill="rgb(132,0,0)"/><rect x="697.57" y="31.0" width="408.73" height="531.0" fill="rgb(133,0,0)"/><rect x="698.83" y="31.0" width="407.47" height="531.0" fill="rgb(131,0,0)"/><rect x="700.09" y="31.0" width="406.21" height="531.0" fill="rgb(128,0,0)"/><rect x="701.35" y="31.0" width="404.95" height="531.0" fill="rgb(126,0,0)"/><rect x="702.61" y="31.0" width="403.69" height="531.0" fill="rgb(127,0,0)"/><rect x="703.88" y="31.0" width="402.42" height="531.0" fill="rgb(129,0,0)"/><rect x="705.14" y="31.0" width="401.16" height="531.0" fill="rgb(132,0,0)"/><rect x="706.40" y="31.0" width="399.90" height="531.0" fill="rgb(135,0,0)"/><rect x="707.66" y="31.0" width="398.64" height="531.0" fill="rgb(138,0,0)"/><rect x="708.92" y="31.0" width="397.38" height="531.0" fill="rgb(139,0,0)"/><rect x="710.18" y="31.0" width="396.12" height="531.0" fill="rgb(135,0,0)"/><rect x="711.44" y="31.0" width="394.86" height="531.0" fill="rgb(128,0,0)"/><rect x="712.71" y="31.0" width="393.59" height="531.0" fill="rgb(130,0,0)"/><rect x="713.97" y="31.0" width="392.33" height="531.0" fill="rgb(131,0,0)"/><rect x="715.23" y="31.0" width="391.07" height="531.0" fill="rgb(132,0,0)"/><rect x="716.49" y="31.0" width="389.81" height="531.0" fill="rgb(134,0,0)"/><rect x="717.75" y="31.0" width="388.55" height="531.0" fill="rgb(132,0,0)"/><rect x="719.01" y="31.0" width="387.29" height="531.0" fill="rgb(130,0,0)"/><rect x="720.28" y="31.0" width="386.02" height="531.0" fill="rgb(128,0,0)"/><rect x="721.54" y="31.0" width="384.76" height="531.0" fill="rgb(127,0,0)"/><rect x="722.80" y="31.0" width="383.50" height="531.0" fill="rgb(128,0,0)"/><rect x="724.06" y="31.0" width="382.24" height="531.0" fill="rgb(131,0,0)"/><rect x="725.32" y="31.0" width="380.98" height="531.0" fill="rgb(125,0,0)"/><rect x="726.58" y="31.0" width="379.72" height="531.0" fill="rgb(129,0,0)"/><rect x="727.84" y="31.0" width="378.46" height="531.0" fill="rgb(135,0,0)"/><rect x="729.11" y="31.0" width="377.19" height="531.0" fill="rgb(137,0,0)"/><rect x="730.37" y="31.0" width="375.93" height="531.0" fill="rgb(135,0,0)"/><rect x="731.63" y="31.0" width="374.67" height="531.0" fill="rgb(136,0,0)"/><rect x="732.89" y="31.0" width="373.41" height="531.0" fill="rgb(138,0,0)"/><rect x="734.15" y="31.0" width="372.15" height="531.0" fill="rgb(136,0,0)"/><rect x="735.41" y="31.0" width="370.89" height="531.0" fill="rgb(138,0,0)"/><rect x="736.67" y="31.0" width="369.63" height="531.0" fill="rgb(139,0,0)"/><rect x="739.20" y="31.0" width="367.10" height="531.0" fill="rgb(138,0,0)"/><rect x="740.46" y="31.0" width="365.84" height="531.0" fill="rgb(137,0,0)"/><rect x="741.72" y="31.0" width="364.58" height="531.0" fill="rgb(135,0,0)"/><rect x="742.98" y="31.0" width="363.32" height="531.0" fill="rgb(134,0,0)"/><rect x="744.24" y="31.0" width="362.06" height="531.0" fill="rgb(131,0,0)"/><rect x="745.51" y="31.0" width="360.79" height="531.0" fill="rgb(130,0,0)"/><rect x="746.77" y="31.0" width="359.53" height="531.0" fill="rgb(129,0,0)"/><rect x="748.03" y="31.0" width="358.27" height="531.0" fill="rgb(126,0,0)"/><rect x="749.29" y="31.0" width="357.01" height="531.0" fill="rgb(131,0,0)"/><rect x="754.34" y="31.0" width="351.96" height="531.0" fill="rgb(133,0,0)"/><rect x="755.60" y="31.0" width="350.70" height="531.0" fill="rgb(134,0,0)"/><rect x="756.86" y="31.0" width="349.44" height="531.0" fill="rgb(129,0,0)"/><rect x="758.12" y="31.0" width="348.18" height="531.0" fill="rgb(127,0,0)"/><rect x="759.38" y="31.0" width="346.92" height="531.0" fill="rgb(122,0,0)"/><rect x="760.64" y="31.0" width="345.66" height="531.0" fill="rgb(123,0,0)"/><rect x="761.91" y="31.0" width="344.39" height="531.0" fill="rgb(122,0,0)"/><rect x="763.17" y="31.0" width="343.13" height="531.0" fill="rgb(124,0,0)"/><rect x="764.43" y="31.0" width="341.87" height="531.0" fill="rgb(127,0,0)"/><rect x="765.69" y="31.0" width="340.61" height="531.0" fill="rgb(130,0,0)"/><rect x="766.95" y="31.0" width="339.35" height="531.0" fill="rgb(133,0,0)"/><rect x="768.21" y="31.0" width="338.09" height="531.0" fill="rgb(130,0,0)"/><rect x="769.47" y="31.0" width="336.83" height="531.0" fill="rgb(133,0,0)"/><rect x="770.74" y="31.0" width="335.56" height="531.0" fill="rgb(134,0,0)"/><rect x="772.00" y="31.0" width="334.30" height="531.0" fill="rgb(124,0,0)"/><rect x="773.26" y="31.0" width="333.04" height="531.0" fill="rgb(126,0,0)"/><rect x="774.52" y="31.0" width="331.78" height="531.0" fill="rgb(120,0,0)"/><rect x="775.78" y="31.0" width="330.52" height="531.0" fill="rgb(121,0,0)"/><rect x="778.30" y="31.0" width="328.00" height="531.0" fill="rgb(120,0,0)"/><rect x="779.57" y="31.0" width="326.73" height="531.0" fill="rgb(121,0,0)"/><rect x="780.83" y="31.0" width="325.47" height="531.0" fill="rgb(120,0,0)"/><rect x="782.09" y="31.0" width="324.21" height="531.0" fill="rgb(119,0,0)"/><rect x="783.35" y="31.0" width="322.95" height="531.0" fill="rgb(124,0,0)"/><rect x="785.87" y="31.0" width="320.43" height="531.0" fill="rgb(121,0,0)"/><rect x="787.14" y="31.0" width="319.16" height="531.0" fill="rgb(126,0,0)"/><rect x="788.40" y="31.0" width="317.90" height="531.0" fill="rgb(131,0,0)"/><rect x="789.66" y="31.0" width="316.64" height="531.0" fill="rgb(132,0,0)"/><rect x="792.18" y="31.0" width="314.12" height="531.0" fill="rgb(126,0,0)"/><rect x="793.44" y="31.0" width="312.86" height="531.0" fill="rgb(125,0,0)"/><rect x="794.70" y="31.0" width="311.60" height="531.0" fill="rgb(124,0,0)"/><rect x="795.97" y="31.0" width="310.33" height="531.0" fill="rgb(122,0,0)"/><rect x="797.23" y="31.0" width="309.07" height="531.0" fill="rgb(124,0,0)"/><rect x="798.49" y="31.0" width="307.81" height="531.0" fill="rgb(133,0,0)"/><rect x="799.75" y="31.0" width="306.55" height="531.0" fill="rgb(125,0,0)"/><rect x="801.01" y="31.0" width="305.29" height="531.0" fill="rgb(120,0,0)"/><rect x="802.27" y="31.0" width="304.03" height="531.0" fill="rgb(119,0,0)"/><rect x="803.54" y="31.0" width="302.76" height="531.0" fill="rgb(122,0,0)"/><rect x="804.80" y="31.0" width="301.50" height="531.0" fill="rgb(125,0,0)"/><rect x="807.32" y="31.0" width="298.98" height="531.0" fill="rgb(127,0,0)"/><rect x="809.84" y="31.0" width="296.46" height="531.0" fill="rgb(125,0,0)"/><rect x="811.10" y="31.0" width="295.20" height="531.0" fill="rgb(124,0,0)"/><rect x="812.37" y="31.0" width="293.93" height="531.0" fill="rgb(117,0,0)"/><rect x="813.63" y="31.0" width="292.67" height="531.0" fill="rgb(116,0,0)"/><rect x="814.89" y="31.0" width="291.41" height="531.0" fill="rgb(118,0,0)"/><rect x="816.15" y="31.0" width="290.15" height="531.0" fill="rgb(121,0,0)"/><rect x="817.41" y="31.0" width="288.89" height="531.0" fill="rgb(124,0,0)"/><rect x="818.67" y="31.0" width="287.63" height="531.0" fill="rgb(126,0,0)"/><rect x="819.94" y="31.0" width="286.36" height="531.0" fill="rgb(119,0,0)"/><rect x="821.20" y="31.0" width="285.10" height="531.0" fill="rgb(115,0,0)"/><rect x="822.46" y="31.0" width="283.84" height="531.0" fill="rgb(117,0,0)"/><rect x="824.98" y="31.0" width="281.32" height="531.0" fill="rgb(118,0,0)"/><rect x="826.24" y="31.0" width="280.06" height="531.0" fill="rgb(115,0,0)"/><rect x="827.50" y="31.0" width="278.80" height="531.0" fill="rgb(119,0,0)"/><rect x="828.77" y="31.0" width="277.53" height="531.0" fill="rgb(120,0,0)"/><rect x="830.03" y="31.0" width="276.27" height="531.0" fill="rgb(123,0,0)"/><rect x="831.29" y="31.0" width="275.01" height="531.0" fill="rgb(128,0,0)"/><rect x="832.55" y="31.0" width="273.75" height="531.0" fill="rgb(129,0,0)"/><rect x="833.81" y="31.0" width="272.49" height="531.0" fill="rgb(127,0,0)"/><rect x="835.07" y="31.0" width="271.23" height="531.0" fill="rgb(125,0,0)"/><rect x="836.33" y="31.0" width="269.97" height="531.0" fill="rgb(124,0,0)"/><rect x="837.60" y="31.0" width="268.70" height="531.0" fill="rgb(122,0,0)"/><rect x="838.86" y="31.0" width="267.44" height="531.0" fill="rgb(120,0,0)"/><rect x="840.12" y="31.0" width="266.18" height="531.0" fill="rgb(119,0,0)"/><rect x="841.38" y="31.0" width="264.92" height="531.0" fill="rgb(118,0,0)"/><rect x="845.17" y="31.0" width="261.13" height="531.0" fill="rgb(115,0,0)"/><rect x="846.43" y="31.0" width="259.87" height="531.0" fill="rgb(113,0,0)"/><rect x="848.95" y="31.0" width="257.35" height="531.0" fill="rgb(107,0,0)"/><rect x="851.47" y="31.0" width="254.83" height="531.0" fill="rgb(118,0,0)"/><rect x="852.73" y="31.0" width="253.57" height="531.0" fill="rgb(113,0,0)"/><rect x="854.00" y="31.0" width="252.30" height="531.0" fill="rgb(114,0,0)"/><rect x="855.26" y="31.0" width="251.04" height="531.0" fill="rgb(118,0,0)"/><rect x="856.52" y="31.0" width="249.78" height="531.0" fill="rgb(121,0,0)"/><rect x="857.78" y="31.0" width="248.52" height="531.0" fill="rgb(119,0,0)"/><rect x="859.04" y="31.0" width="247.26" height="531.0" fill="rgb(121,0,0)"/><rect x="860.30" y="31.0" width="246.00" height="531.0" fill="rgb(120,0,0)"/><rect x="862.83" y="31.0" width="243.47" height="531.0" fill="rgb(123,0,0)"/><rect x="864.09" y="31.0" width="242.21" height="531.0" fill="rgb(122,0,0)"/><rect x="865.35" y="31.0" width="240.95" height="531.0" fill="rgb(117,0,0)"/><rect x="866.61" y="31.0" width="239.69" height="531.0" fill="rgb(118,0,0)"/><rect x="867.87" y="31.0" width="238.43" height="531.0" fill="rgb(117,0,0)"/><rect x="869.13" y="31.0" width="237.17" height="531.0" fill="rgb(118,0,0)"/><rect x="870.40" y="31.0" width="235.90" height="531.0" fill="rgb(115,0,0)"/><rect x="871.66" y="31.0" width="234.64" height="531.0" fill="rgb(111,0,0)"/><rect x="872.92" y="31.0" width="233.38" height="531.0" fill="rgb(115,0,0)"/><rect x="874.18" y="31.0" width="232.12" height="531.0" fill="rgb(117,0,0)"/><rect x="875.44" y="31.0" width="230.86" height="531.0" fill="rgb(123,0,0)"/><rect x="876.70" y="31.0" width="229.60" height="531.0" fill="rgb(119,0,0)"/><rect x="879.23" y="31.0" width="227.07" height="531.0" fill="rgb(118,0,0)"/><rect x="880.49" y="31.0" width="225.81" height="531.0" fill="rgb(113,0,0)"/><rect x="883.01" y="31.0" width="223.29" height="531.0" fill="rgb(112,0,0)"/><rect x="884.27" y="31.0" width="222.03" height="531.0" fill="rgb(110,0,0)"/><rect x="885.53" y="31.0" width="220.77" height="531.0" fill="rgb(108,0,0)"/><rect x="886.80" y="31.0" width="219.50" height="531.0" fill="rgb(106,0,0)"/><rect x="888.06" y="31.0" width="218.24" height="531.0" fill="rgb(107,0,0)"/><rect x="889.32" y="31.0" width="216.98" height="531.0" fill="rgb(112,0,0)"/><rect x="890.58" y="31.0" width="215.72" height="531.0" fill="rgb(115,0,0)"/><rect x="891.84" y="31.0" width="214.46" height="531.0" fill="rgb(116,0,0)"/><rect x="893.10" y="31.0" width="213.20" height="531.0" fill="rgb(119,0,0)"/><rect x="894.36" y="31.0" width="211.94" height="531.0" fill="rgb(118,0,0)"/><rect x="895.63" y="31.0" width="210.67" height="531.0" fill="rgb(115,0,0)"/><rect x="896.89" y="31.0" width="209.41" height="531.0" fill="rgb(113,0,0)"/><rect x="898.15" y="31.0" width="208.15" height="531.0" fill="rgb(116,0,0)"/><rect x="899.41" y="31.0" width="206.89" height="531.0" fill="rgb(115,0,0)"/><rect x="900.67" y="31.0" width="205.63" height="531.0" fill="rgb(108,0,0)"/><rect x="901.93" y="31.0" width="204.37" height="531.0" fill="rgb(105,0,0)"/><rect x="903.20" y="31.0" width="203.10" height="531.0" fill="rgb(112,0,0)"/><rect x="904.46" y="31.0" width="201.84" height="531.0" fill="rgb(108,0,0)"/><rect x="905.72" y="31.0" width="200.58" height="531.0" fill="rgb(109,0,0)"/><rect x="906.98" y="31.0" width="199.32" height="531.0" fill="rgb(111,0,0)"/><rect x="908.24" y="31.0" width="198.06" height="531.0" fill="rgb(113,0,0)"/><rect x="909.50" y="31.0" width="196.80" height="531.0" fill="rgb(111,0,0)"/><rect x="910.76" y="31.0" width="195.54" height="531.0" fill="rgb(112,0,0)"/><rect x="912.03" y="31.0" width="194.27" height="531.0" fill="rgb(117,0,0)"/><rect x="913.29" y="31.0" width="193.01" height="531.0" fill="rgb(122,0,0)"/><rect x="914.55" y="31.0" width="191.75" height="531.0" fill="rgb(121,0,0)"/><rect x="915.81" y="31.0" width="190.49" height="531.0" fill="rgb(114,0,0)"/><rect x="917.07" y="31.0" width="189.23" height="531.0" fill="rgb(110,0,0)"/><rect x="918.33" y="31.0" width="187.97" height="531.0" fill="rgb(112,0,0)"/><rect x="919.60" y="31.0" width="186.70" height="531.0" fill="rgb(113,0,0)"/><rect x="920.86" y="31.0" width="185.44" height="531.0" fill="rgb(111,0,0)"/><rect x="922.12" y="31.0" width="184.18" height="531.0" fill="rgb(109,0,0)"/><rect x="923.38" y="31.0" width="182.92" height="531.0" fill="rgb(111,0,0)"/><rect x="924.64" y="31.0" width="181.66" height="531.0" fill="rgb(109,0,0)"/><rect x="927.16" y="31.0" width="179.14" height="531.0" fill="rgb(115,0,0)"/><rect x="928.43" y="31.0" width="177.87" height="531.0" fill="rgb(122,0,0)"/><rect x="929.69" y="31.0" width="176.61" height="531.0" fill="rgb(118,0,0)"/><rect x="930.95" y="31.0" width="175.35" height="531.0" fill="rgb(120,0,0)"/><rect x="932.21" y="31.0" width="174.09" height="531.0" fill="rgb(119,0,0)"/><rect x="933.47" y="31.0" width="172.83" height="531.0" fill="rgb(116,0,0)"/><rect x="934.73" y="31.0" width="171.57" height="531.0" fill="rgb(117,0,0)"/><rect x="935.99" y="31.0" width="170.31" height="531.0" fill="rgb(119,0,0)"/><rect x="937.26" y="31.0" width="169.04" height="531.0" fill="rgb(116,0,0)"/><rect x="938.52" y="31.0" width="167.78" height="531.0" fill="rgb(114,0,0)"/><rect x="939.78" y="31.0" width="166.52" height="531.0" fill="rgb(107,0,0)"/><rect x="941.04" y="31.0" width="165.26" height="531.0" fill="rgb(101,0,0)"/><rect x="942.30" y="31.0" width="164.00" height="531.0" fill="rgb(105,0,0)"/><rect x="943.56" y="31.0" width="162.74" height="531.0" fill="rgb(111,0,0)"/><rect x="944.83" y="31.0" width="161.47" height="531.0" fill="rgb(112,0,0)"/><rect x="946.09" y="31.0" width="160.21" height="531.0" fill="rgb(120,0,0)"/><rect x="947.35" y="31.0" width="158.95" height="531.0" fill="rgb(124,0,0)"/><rect x="948.61" y="31.0" width="157.69" height="531.0" fill="rgb(125,0,0)"/><rect x="951.13" y="31.0" width="155.17" height="531.0" fill="rgb(122,0,0)"/><rect x="952.39" y="31.0" width="153.91" height="531.0" fill="rgb(123,0,0)"/><rect x="953.66" y="31.0" width="152.64" height="531.0" fill="rgb(122,0,0)"/><rect x="954.92" y="31.0" width="151.38" height="531.0" fill="rgb(120,0,0)"/><rect x="956.18" y="31.0" width="150.12" height="531.0" fill="rgb(117,0,0)"/><rect x="957.44" y="31.0" width="148.86" height="531.0" fill="rgb(112,0,0)"/><rect x="959.96" y="31.0" width="146.34" height="531.0" fill="rgb(111,0,0)"/><rect x="961.23" y="31.0" width="145.07" height="531.0" fill="rgb(117,0,0)"/><rect x="962.49" y="31.0" width="143.81" height="531.0" fill="rgb(118,0,0)"/><rect x="963.75" y="31.0" width="142.55" height="531.0" fill="rgb(114,0,0)"/><rect x="965.01" y="31.0" width="141.29" height="531.0" fill="rgb(113,0,0)"/><rect x="966.27" y="31.0" width="140.03" height="531.0" fill="rgb(112,0,0)"/><rect x="968.79" y="31.0" width="137.51" height="531.0" fill="rgb(107,0,0)"/><rect x="970.06" y="31.0" width="136.24" height="531.0" fill="rgb(108,0,0)"/><rect x="971.32" y="31.0" width="134.98" height="531.0" fill="rgb(114,0,0)"/><rect x="972.58" y="31.0" width="133.72" height="531.0" fill="rgb(112,0,0)"/><rect x="973.84" y="31.0" width="132.46" height="531.0" fill="rgb(121,0,0)"/><rect x="975.10" y="31.0" width="131.20" height="531.0" fill="rgb(126,0,0)"/><rect x="976.36" y="31.0" width="129.94" height="531.0" fill="rgb(122,0,0)"/><rect x="977.63" y="31.0" width="128.67" height="531.0" fill="rgb(116,0,0)"/><rect x="978.89" y="31.0" width="127.41" height="531.0" fill="rgb(112,0,0)"/><rect x="980.15" y="31.0" width="126.15" height="531.0" fill="rgb(110,0,0)"/><rect x="981.41" y="31.0" width="124.89" height="531.0" fill="rgb(113,0,0)"/><rect x="982.67" y="31.0" width="123.63" height="531.0" fill="rgb(106,0,0)"/><rect x="983.93" y="31.0" width="122.37" height="531.0" fill="rgb(99,0,0)"/><rect x="985.19" y="31.0" width="121.11" height="531.0" fill="rgb(101,0,0)"/><rect x="986.46" y="31.0" width="119.84" height="531.0" fill="rgb(104,0,0)"/><rect x="987.72" y="31.0" width="118.58" height="531.0" fill="rgb(101,0,0)"/><rect x="990.24" y="31.0" width="116.06" height="531.0" fill="rgb(107,0,0)"/><rect x="991.50" y="31.0" width="114.80" height="531.0" fill="rgb(109,0,0)"/><rect x="992.76" y="31.0" width="113.54" height="531.0" fill="rgb(106,0,0)"/><rect x="994.02" y="31.0" width="112.28" height="531.0" fill="rgb(108,0,0)"/><rect x="995.29" y="31.0" width="111.01" height="531.0" fill="rgb(107,0,0)"/><rect x="996.55" y="31.0" width="109.75" height="531.0" fill="rgb(110,0,0)"/><rect x="997.81" y="31.0" width="108.49" height="531.0" fill="rgb(113,0,0)"/><rect x="1000.33" y="31.0" width="105.97" height="531.0" fill="rgb(116,0,0)"/><rect x="1001.59" y="31.0" width="104.71" height="531.0" fill="rgb(114,0,0)"/><rect x="1002.86" y="31.0" width="103.44" height="531.0" fill="rgb(111,0,0)"/><rect x="1004.12" y="31.0" width="102.18" height="531.0" fill="rgb(108,0,0)"/><rect x="1005.38" y="31.0" width="100.92" height="531.0" fill="rgb(111,0,0)"/><rect x="1006.64" y="31.0" width="99.66" height="531.0" fill="rgb(110,0,0)"/><rect x="1007.90" y="31.0" width="98.40" height="531.0" fill="rgb(104,0,0)"/><rect x="1009.16" y="31.0" width="97.14" height="531.0" fill="rgb(106,0,0)"/><rect x="1011.69" y="31.0" width="94.61" height="531.0" fill="rgb(101,0,0)"/><rect x="1012.95" y="31.0" width="93.35" height="531.0" fill="rgb(96,0,0)"/><rect x="1014.21" y="31.0" width="92.09" height="531.0" fill="rgb(99,0,0)"/><rect x="1015.47" y="31.0" width="90.83" height="531.0" fill="rgb(102,0,0)"/><rect x="1016.73" y="31.0" width="89.57" height="531.0" fill="rgb(105,0,0)"/><rect x="1017.99" y="31.0" width="88.31" height="531.0" fill="rgb(104,0,0)"/><rect x="1019.26" y="31.0" width="87.04" height="531.0" fill="rgb(111,0,0)"/><rect x="1020.52" y="31.0" width="85.78" height="531.0" fill="rgb(113,0,0)"/><rect x="1021.78" y="31.0" width="84.52" height="531.0" fill="rgb(114,0,0)"/><rect x="1023.04" y="31.0" width="83.26" height="531.0" fill="rgb(115,0,0)"/><rect x="1024.30" y="31.0" width="82.00" height="531.0" fill="rgb(117,0,0)"/><rect x="1025.56" y="31.0" width="80.74" height="531.0" fill="rgb(119,0,0)"/><rect x="1028.09" y="31.0" width="78.21" height="531.0" fill="rgb(122,0,0)"/><rect x="1029.35" y="31.0" width="76.95" height="531.0" fill="rgb(126,0,0)"/><rect x="1030.61" y="31.0" width="75.69" height="531.0" fill="rgb(131,0,0)"/><rect x="1031.87" y="31.0" width="74.43" height="531.0" fill="rgb(128,0,0)"/><rect x="1033.13" y="31.0" width="73.17" height="531.0" fill="rgb(122,0,0)"/><rect x="1034.39" y="31.0" width="71.91" height="531.0" fill="rgb(120,0,0)"/><rect x="1035.65" y="31.0" width="70.65" height="531.0" fill="rgb(119,0,0)"/><rect x="1036.92" y="31.0" width="69.38" height="531.0" fill="rgb(121,0,0)"/><rect x="1039.44" y="31.0" width="66.86" height="531.0" fill="rgb(119,0,0)"/><rect x="1040.70" y="31.0" width="65.60" height="531.0" fill="rgb(120,0,0)"/><rect x="1043.22" y="31.0" width="63.08" height="531.0" fill="rgb(115,0,0)"/><rect x="1044.49" y="31.0" width="61.81" height="531.0" fill="rgb(114,0,0)"/><rect x="1045.75" y="31.0" width="60.55" height="531.0" fill="rgb(118,0,0)"/><rect x="1048.27" y="31.0" width="58.03" height="531.0" fill="rgb(113,0,0)"/><rect x="1049.53" y="31.0" width="56.77" height="531.0" fill="rgb(105,0,0)"/><rect x="1052.05" y="31.0" width="54.25" height="531.0" fill="rgb(110,0,0)"/><rect x="1053.32" y="31.0" width="52.98" height="531.0" fill="rgb(109,0,0)"/><rect x="1054.58" y="31.0" width="51.72" height="531.0" fill="rgb(110,0,0)"/><rect x="1055.84" y="31.0" width="50.46" height="531.0" fill="rgb(108,0,0)"/><rect x="1058.36" y="31.0" width="47.94" height="531.0" fill="rgb(109,0,0)"/><rect x="1059.62" y="31.0" width="46.68" height="531.0" fill="rgb(104,0,0)"/><rect x="1063.41" y="31.0" width="42.89" height="531.0" fill="rgb(96,0,0)"/><rect x="1064.67" y="31.0" width="41.63" height="531.0" fill="rgb(105,0,0)"/><rect x="1065.93" y="31.0" width="40.37" height="531.0" fill="rgb(100,0,0)"/><rect x="1067.19" y="31.0" width="39.11" height="531.0" fill="rgb(106,0,0)"/><rect x="1068.45" y="31.0" width="37.85" height="531.0" fill="rgb(102,0,0)"/><rect x="1069.72" y="31.0" width="36.58" height="531.0" fill="rgb(99,0,0)"/><rect x="1070.98" y="31.0" width="35.32" height="531.0" fill="rgb(98,0,0)"/><rect x="1072.24" y="31.0" width="34.06" height="531.0" fill="rgb(103,0,0)"/><rect x="1073.50" y="31.0" width="32.80" height="531.0" fill="rgb(104,0,0)"/><rect x="1074.76" y="31.0" width="31.54" height="531.0" fill="rgb(101,0,0)"/><rect x="1076.02" y="31.0" width="30.28" height="531.0" fill="rgb(94,0,0)"/><rect x="1077.29" y="31.0" width="29.01" height="531.0" fill="rgb(92,0,0)"/><rect x="1078.55" y="31.0" width="27.75" height="531.0" fill="rgb(96,0,0)"/><rect x="1079.81" y="31.0" width="26.49" height="531.0" fill="rgb(101,0,0)"/><rect x="1081.07" y="31.0" width="25.23" height="531.0" fill="rgb(103,0,0)"/><rect x="1082.33" y="31.0" width="23.97" height="531.0" fill="rgb(104,0,0)"/><rect x="1083.59" y="31.0" width="22.71" height="531.0" fill="rgb(105,0,0)"/><rect x="1084.85" y="31.0" width="21.45" height="531.0" fill="rgb(101,0,0)"/><rect x="1086.12" y="31.0" width="20.18" height="531.0" fill="rgb(103,0,0)"/><rect x="1087.38" y="31.0" width="18.92" height="531.0" fill="rgb(96,0,0)"/><rect x="1088.64" y="31.0" width="17.66" height="531.0" fill="rgb(95,0,0)"/><rect x="1089.90" y="31.0" width="16.40" height="531.0" fill="rgb(91,0,0)"/><rect x="1091.16" y="31.0" width="15.14" height="531.0" fill="rgb(94,0,0)"/><rect x="1092.42" y="31.0" width="13.88" height="531.0" fill="rgb(99,0,0)"/><rect x="1093.68" y="31.0" width="12.62" height="531.0" fill="rgb(101,0,0)"/><rect x="1094.95" y="31.0" width="11.35" height="531.0" fill="rgb(107,0,0)"/><rect x="1096.21" y="31.0" width="10.09" height="531.0" fill="rgb(103,0,0)"/><rect x="1097.47" y="31.0" width="8.83" height="531.0" fill="rgb(98,0,0)"/><rect x="1098.73" y="31.0" width="7.57" height="531.0" fill="rgb(102,0,0)"/><rect x="1101.25" y="31.0" width="5.05" height="531.0" fill="rgb(101,0,0)"/><rect x="1102.52" y="31.0" width="3.78" height="531.0" fill="rgb(97,0,0)"/><rect x="1103.78" y="31.0" width="2.52" height="531.0" fill="rgb(92,0,0)"/></g>
<g style="mix-blend-mode:lighten"><rect x="93.3" y="31.00" width="1013.00" height="531.00" fill="rgb(0,7,0)"/><rect x="93.3" y="31.45" width="1013.00" height="530.55" fill="rgb(0,8,0)"/><rect x="93.3" y="33.99" width="1013.00" height="528.01" fill="rgb(0,6,0)"/><rect x="93.3" y="39.09" width="1013.00" height="522.91" fill="rgb(0,7,0)"/><rect x="93.3" y="41.63" width="1013.00" height="520.37" fill="rgb(0,18,0)"/><rect x="93.3" y="44.18" width="1013.00" height="517.82" fill="rgb(0,6,0)"/><rect x="93.3" y="46.73" width="1013.00" height="515.27" fill="rgb(0,7,0)"/><rect x="93.3" y="49.27" width="1013.00" height="512.73" fill="rgb(0,8,0)"/><rect x="93.3" y="51.82" width="1013.00" height="510.18" fill="rgb(0,18,0)"/><rect x="93.3" y="54.37" width="1013.00" height="507.63" fill="rgb(0,7,0)"/><rect x="93.3" y="56.91" width="1013.00" height="505.09" fill="rgb(0,9,0)"/><rect x="93.3" y="59.46" width="1013.00" height="502.54" fill="rgb(0,7,0)"/><rect x="93.3" y="64.55" width="1013.00" height="497.45" fill="rgb(0,13,0)"/><rect x="93.3" y="67.10" width="1013.00" height="494.90" fill="rgb(0,9,0)"/><rect x="93.3" y="69.65" width="1013.00" height="492.35" fill="rgb(0,7,0)"/><rect x="93.3" y="72.19" width="1013.00" height="489.81" fill="rgb(0,6,0)"/><rect x="93.3" y="79.83" width="1013.00" height="482.17" fill="rgb(0,8,0)"/><rect x="93.3" y="82.38" width="1013.00" height="479.62" fill="rgb(0,7,0)"/><rect x="93.3" y="84.92" width="1013.00" height="477.08" fill="rgb(0,40,0)"/><rect x="93.3" y="87.47" width="1013.00" height="474.53" fill="rgb(0,5,0)"/><rect x="93.3" y="90.02" width="1013.00" height="471.98" fill="rgb(0,6,0)"/><rect x="93.3" y="92.56" width="1013.00" height="469.44" fill="rgb(0,5,0)"/><rect x="93.3" y="95.11" width="1013.00" height="466.89" fill="rgb(0,6,0)"/><rect x="93.3" y="97.66" width="1013.00" height="464.34" fill="rgb(0,5,0)"/><rect x="93.3" y="102.75" width="1013.00" height="459.25" fill="rgb(0,8,0)"/><rect x="93.3" y="105.30" width="1013.00" height="456.70" fill="rgb(0,5,0)"/><rect x="93.3" y="110.39" width="1013.00" height="451.61" fill="rgb(0,6,0)"/><rect x="93.3" y="118.03" width="1013.00" height="443.97" fill="rgb(0,8,0)"/><rect x="93.3" y="120.58" width="1013.00" height="441.42" fill="rgb(0,6,0)"/><rect x="93.3" y="128.22" width="1013.00" height="433.78" fill="rgb(0,68,0)"/><rect x="93.3" y="130.76" width="1013.00" height="431.24" fill="rgb(0,21,0)"/><rect x="93.3" y="133.31" width="1013.00" height="428.69" fill="rgb(0,5,0)"/><rect x="93.3" y="138.40" width="1013.00" height="423.60" fill="rgb(0,6,0)"/><rect x="93.3" y="140.95" width="1013.00" height="421.05" fill="rgb(0,9,0)"/><rect x="93.3" y="143.49" width="1013.00" height="418.51" fill="rgb(0,6,0)"/><rect x="93.3" y="146.04" width="1013.00" height="415.96" fill="rgb(0,8,0)"/><rect x="93.3" y="148.59" width="1013.00" height="413.41" fill="rgb(0,7,0)"/><rect x="93.3" y="153.68" width="1013.00" height="408.32" fill="rgb(0,5,0)"/><rect x="93.3" y="156.23" width="1013.00" height="405.77" fill="rgb(0,26,0)"/><rect x="93.3" y="158.77" width="1013.00" height="403.23" fill="rgb(0,7,0)"/><rect x="93.3" y="163.87" width="1013.00" height="398.13" fill="rgb(0,8,0)"/><rect x="93.3" y="166.41" width="1013.00" height="395.59" fill="rgb(0,7,0)"/><rect x="93.3" y="168.96" width="1013.00" height="393.04" fill="rgb(0,9,0)"/><rect x="93.3" y="171.51" width="1013.00" height="390.49" fill="rgb(0,7,0)"/><rect x="93.3" y="174.05" width="1013.00" height="387.95" fill="rgb(0,21,0)"/><rect x="93.3" y="176.60" width="1013.00" height="385.40" fill="rgb(0,6,0)"/><rect x="93.3" y="179.14" width="1013.00" height="382.86" fill="rgb(0,9,0)"/><rect x="93.3" y="181.69" width="1013.00" height="380.31" fill="rgb(0,5,0)"/><rect x="93.3" y="184.24" width="1013.00" height="377.76" fill="rgb(0,6,0)"/><rect x="93.3" y="186.78" width="1013.00" height="375.22" fill="rgb(0,4,0)"/><rect x="93.3" y="189.33" width="1013.00" height="372.67" fill="rgb(0,5,0)"/><rect x="93.3" y="191.88" width="1013.00" height="370.12" fill="rgb(0,6,0)"/><rect x="93.3" y="194.42" width="1013.00" height="367.58" fill="rgb(0,4,0)"/><rect x="93.3" y="207.16" width="1013.00" height="354.84" fill="rgb(0,8,0)"/><rect x="93.3" y="209.70" width="1013.00" height="352.30" fill="rgb(0,4,0)"/><rect x="93.3" y="217.34" width="1013.00" height="344.66" fill="rgb(0,5,0)"/><rect x="93.3" y="219.89" width="1013.00" height="342.11" fill="rgb(0,36,0)"/><rect x="93.3" y="222.44" width="1013.00" height="339.56" fill="rgb(0,4,0)"/><rect x="93.3" y="232.62" width="1013.00" height="329.38" fill="rgb(0,3,0)"/><rect x="93.3" y="235.17" width="1013.00" height="326.83" fill="rgb(0,5,0)"/><rect x="93.3" y="237.71" width="1013.00" height="324.29" fill="rgb(0,4,0)"/><rect x="93.3" y="255.54" width="1013.00" height="306.46" fill="rgb(0,9,0)"/><rect x="93.3" y="258.09" width="1013.00" height="303.91" fill="rgb(0,10,0)"/><rect x="93.3" y="260.63" width="1013.00" height="301.37" fill="rgb(0,4,0)"/><rect x="93.3" y="263.18" width="1013.00" height="298.82" fill="rgb(0,92,0)"/><rect x="93.3" y="265.73" width="1013.00" height="296.27" fill="rgb(0,4,0)"/><rect x="93.3" y="275.91" width="1013.00" height="286.09" fill="rgb(0,7,0)"/><rect x="93.3" y="278.46" width="1013.00" height="283.54" fill="rgb(0,4,0)"/><rect x="93.3" y="296.28" width="1013.00" height="265.72" fill="rgb(0,5,0)"/><rect x="93.3" y="298.83" width="1013.00" height="263.17" fill="rgb(0,4,0)"/><rect x="93.3" y="306.47" width="1013.00" height="255.53" fill="rgb(0,5,0)"/><rect x="93.3" y="309.02" width="1013.00" height="252.98" fill="rgb(0,81,0)"/><rect x="93.3" y="311.56" width="1013.00" height="250.44" fill="rgb(0,4,0)"/><rect x="93.3" y="319.20" width="1013.00" height="242.80" fill="rgb(0,5,0)"/><rect x="93.3" y="321.75" width="1013.00" height="240.25" fill="rgb(0,4,0)"/><rect x="93.3" y="324.30" width="1013.00" height="237.70" fill="rgb(0,6,0)"/><rect x="93.3" y="326.84" width="1013.00" height="235.16" fill="rgb(0,4,0)"/><rect x="93.3" y="342.12" width="1013.00" height="219.88" fill="rgb(0,5,0)"/><rect x="93.3" y="344.67" width="1013.00" height="217.33" fill="rgb(0,4,0)"/><rect x="93.3" y="347.21" width="1013.00" height="214.79" fill="rgb(0,5,0)"/><rect x="93.3" y="349.76" width="1013.00" height="212.24" fill="rgb(0,4,0)"/><rect x="93.3" y="354.85" width="1013.00" height="207.15" fill="rgb(0,5,0)"/><rect x="93.3" y="357.40" width="1013.00" height="204.60" fill="rgb(0,4,0)"/><rect x="93.3" y="359.95" width="1013.00" height="202.05" fill="rgb(0,9,0)"/><rect x="93.3" y="362.49" width="1013.00" height="199.51" fill="rgb(0,4,0)"/><rect x="93.3" y="367.59" width="1013.00" height="194.41" fill="rgb(0,5,0)"/><rect x="93.3" y="372.68" width="1013.00" height="189.32" fill="rgb(0,6,0)"/><rect x="93.3" y="375.23" width="1013.00" height="186.77" fill="rgb(0,5,0)"/><rect x="93.3" y="377.77" width="1013.00" height="184.23" fill="rgb(0,4,0)"/><rect x="93.3" y="380.32" width="1013.00" height="181.68" fill="rgb(0,5,0)"/><rect x="93.3" y="382.87" width="1013.00" height="179.13" fill="rgb(0,7,0)"/><rect x="93.3" y="385.41" width="1013.00" height="176.59" fill="rgb(0,4,0)"/><rect x="93.3" y="387.96" width="1013.00" height="174.04" fill="rgb(0,5,0)"/><rect x="93.3" y="390.50" width="1013.00" height="171.50" fill="rgb(0,4,0)"/><rect x="93.3" y="395.60" width="1013.00" height="166.40" fill="rgb(0,22,0)"/><rect x="93.3" y="398.14" width="1013.00" height="163.86" fill="rgb(0,4,0)"/><rect x="93.3" y="405.78" width="1013.00" height="156.22" fill="rgb(0,5,0)"/><rect x="93.3" y="410.88" width="1013.00" height="151.12" fill="rgb(0,4,0)"/><rect x="93.3" y="413.42" width="1013.00" height="148.58" fill="rgb(0,5,0)"/><rect x="93.3" y="415.97" width="1013.00" height="146.03" fill="rgb(0,4,0)"/><rect x="93.3" y="441.43" width="1013.00" height="120.57" fill="rgb(0,16,0)"/><rect x="93.3" y="443.98" width="1013.00" height="118.02" fill="rgb(0,4,0)"/><rect x="93.3" y="446.53" width="1013.00" height="115.47" fill="rgb(0,13,0)"/><rect x="93.3" y="449.07" width="1013.00" height="112.93" fill="rgb(0,5,0)"/><rect x="93.3" y="451.62" width="1013.00" height="110.38" fill="rgb(0,4,0)"/><rect x="93.3" y="456.71" width="1013.00" height="105.29" fill="rgb(0,6,0)"/><rect x="93.3" y="459.26" width="1013.00" height="102.74" fill="rgb(0,4,0)"/><rect x="93.3" y="464.35" width="1013.00" height="97.65" fill="rgb(0,11,0)"/><rect x="93.3" y="466.90" width="1013.00" height="95.10" fill="rgb(0,7,0)"/><rect x="93.3" y="469.45" width="1013.00" height="92.55" fill="rgb(0,6,0)"/><rect x="93.3" y="471.99" width="1013.00" height="90.01" fill="rgb(0,5,0)"/><rect x="93.3" y="477.09" width="1013.00" height="84.91" fill="rgb(0,7,0)"/><rect x="93.3" y="479.63" width="1013.00" height="82.37" fill="rgb(0,5,0)"/><rect x="93.3" y="482.18" width="1013.00" height="79.82" fill="rgb(0,4,0)"/><rect x="93.3" y="484.73" width="1013.00" height="77.27" fill="rgb(0,73,0)"/><rect x="93.3" y="487.27" width="1013.00" height="74.73" fill="rgb(0,5,0)"/><rect x="93.3" y="489.82" width="1013.00" height="72.18" fill="rgb(0,4,0)"/><rect x="93.3" y="492.36" width="1013.00" height="69.64" fill="rgb(0,5,0)"/><rect x="93.3" y="497.46" width="1013.00" height="64.54" fill="rgb(0,4,0)"/><rect x="93.3" y="500.00" width="1013.00" height="62.00" fill="rgb(0,5,0)"/><rect x="93.3" y="505.10" width="1013.00" height="56.90" fill="rgb(0,4,0)"/><rect x="93.3" y="507.64" width="1013.00" height="54.36" fill="rgb(0,5,0)"/><rect x="93.3" y="512.74" width="1013.00" height="49.26" fill="rgb(0,6,0)"/><rect x="93.3" y="515.28" width="1013.00" height="46.72" fill="rgb(0,11,0)"/><rect x="93.3" y="517.83" width="1013.00" height="44.17" fill="rgb(0,5,0)"/><rect x="93.3" y="530.56" width="1013.00" height="31.44" fill="rgb(0,23,0)"/><rect x="93.3" y="533.11" width="1013.00" height="28.89" fill="rgb(0,5,0)"/><rect x="93.3" y="553.48" width="1013.00" height="8.52" fill="rgb(0,8,0)"/><rect x="93.3" y="556.03" width="1013.00" height="5.97" fill="rgb(0,6,0)"/><rect x="93.3" y="558.57" width="1013.00" height="3.43" fill="rgb(0,7,0)"/><rect x="93.3" y="306.47" width="182.2" height="2.55" fill="rgb(0,81,0)"/><rect x="93.3" y="309.02" width="182.2" height="2.55" fill="rgb(0,5,0)"/><rect x="295.5" y="306.47" width="55.9" height="2.55" fill="rgb(0,81,0)"/><rect x="295.5" y="309.02" width="55.9" height="2.55" fill="rgb(0,5,0)"/><rect x="93.3" y="153.68" width="91.7" height="2.55" fill="rgb(0,26,0)"/><rect x="93.3" y="156.23" width="91.7" height="2.55" fill="rgb(0,5,0)"/><rect x="194.0" y="153.68" width="20.2" height="2.55" fill="rgb(0,26,0)"/><rect x="194.0" y="156.23" width="20.2" height="2.55" fill="rgb(0,5,0)"/><rect x="220.0" y="153.68" width="15.0" height="2.55" fill="rgb(0,26,0)"/><rect x="220.0" y="156.23" width="15.0" height="2.55" fill="rgb(0,5,0)"/><rect x="99.0" y="217.34" width="32.8" height="2.55" fill="rgb(0,36,0)"/><rect x="99.0" y="219.89" width="32.8" height="2.55" fill="rgb(0,5,0)"/><rect x="135.7" y="217.34" width="3.1" height="2.55" fill="rgb(0,36,0)"/><rect x="135.7" y="219.89" width="3.1" height="2.55" fill="rgb(0,5,0)"/></g>
</g>
<rect x="93.5" y="30.5" width="1013.0" height="531.0" fill="none" stroke="#000" stroke-width="1.11"/>
<line x1="172.5" y1="561.5" x2="172.5" y2="566.4" stroke="#000" stroke-width="1.11"/><text x="172.5" y="582.3" font-size="15.0" text-anchor="middle">−1</text>
<line x1="310.5" y1="561.5" x2="310.5" y2="566.4" stroke="#000" stroke-width="1.11"/><text x="310.5" y="582.3" font-size="15.0" text-anchor="middle">0</text>
<line x1="448.5" y1="561.5" x2="448.5" y2="566.4" stroke="#000" stroke-width="1.11"/><text x="448.5" y="582.3" font-size="15.0" text-anchor="middle">1</text>
<line x1="587.5" y1="561.5" x2="587.5" y2="566.4" stroke="#000" stroke-width="1.11"/><text x="587.5" y="582.3" font-size="15.0" text-anchor="middle">2</text>
<line x1="725.5" y1="561.5" x2="725.5" y2="566.4" stroke="#000" stroke-width="1.11"/><text x="725.5" y="582.3" font-size="15.0" text-anchor="middle">3</text>
<line x1="863.5" y1="561.5" x2="863.5" y2="566.4" stroke="#000" stroke-width="1.11"/><text x="863.5" y="582.3" font-size="15.0" text-anchor="middle">4</text>
<line x1="1001.5" y1="561.5" x2="1001.5" y2="566.4" stroke="#000" stroke-width="1.11"/><text x="1001.5" y="582.3" font-size="15.0" text-anchor="middle">5</text>
<line x1="88.6" y1="486.5" x2="93.5" y2="486.5" stroke="#000" stroke-width="1.11"/><text x="82.9" y="492.3" font-size="15.0" text-anchor="end">1419.5</text>
<line x1="88.6" y1="410.5" x2="93.5" y2="410.5" stroke="#000" stroke-width="1.11"/><text x="82.9" y="416.3" font-size="15.0" text-anchor="end">1420.0</text>
<line x1="88.6" y1="334.5" x2="93.5" y2="334.5" stroke="#000" stroke-width="1.11"/><text x="82.9" y="340.3" font-size="15.0" text-anchor="end">1420.5</text>
<line x1="88.6" y1="258.5" x2="93.5" y2="258.5" stroke="#000" stroke-width="1.11"/><text x="82.9" y="264.3" font-size="15.0" text-anchor="end">1421.0</text>
<line x1="88.6" y1="182.5" x2="93.5" y2="182.5" stroke="#000" stroke-width="1.11"/><text x="82.9" y="188.3" font-size="15.0" text-anchor="end">1421.5</text>
<line x1="88.6" y1="105.5" x2="93.5" y2="105.5" stroke="#000" stroke-width="1.11"/><text x="82.9" y="111.3" font-size="15.0" text-anchor="end">1422.0</text>
<text transform="translate(25.8,297.8) rotate(-90)" font-size="15.0" text-anchor="middle">NX</text>
<defs><linearGradient id="vir" x1="0" y1="1" x2="0" y2="0"><stop offset="0.0000" stop-color="rgb(68,1,84)"/><stop offset="0.0312" stop-color="rgb(71,13,96)"/><stop offset="0.0625" stop-color="rgb(72,24,106)"/><stop offset="0.0938" stop-color="rgb(72,35,116)"/><stop offset="0.1250" stop-color="rgb(71,45,123)"/><stop offset="0.1562" stop-color="rgb(69,55,129)"/><stop offset="0.1875" stop-color="rgb(66,64,134)"/><stop offset="0.2188" stop-color="rgb(62,73,137)"/><stop offset="0.2500" stop-color="rgb(59,82,139)"/><stop offset="0.2812" stop-color="rgb(55,91,141)"/><stop offset="0.3125" stop-color="rgb(51,99,141)"/><stop offset="0.3438" stop-color="rgb(47,107,142)"/><stop offset="0.3750" stop-color="rgb(44,114,142)"/><stop offset="0.4062" stop-color="rgb(41,122,142)"/><stop offset="0.4375" stop-color="rgb(38,130,142)"/><stop offset="0.4688" stop-color="rgb(35,137,142)"/><stop offset="0.5000" stop-color="rgb(33,145,140)"/><stop offset="0.5312" stop-color="rgb(31,152,139)"/><stop offset="0.5625" stop-color="rgb(31,160,136)"/><stop offset="0.5938" stop-color="rgb(34,167,133)"/><stop offset="0.6250" stop-color="rgb(40,174,128)"/><stop offset="0.6562" stop-color="rgb(50,182,122)"/><stop offset="0.6875" stop-color="rgb(63,188,115)"/><stop offset="0.7188" stop-color="rgb(78,195,107)"/><stop offset="0.7500" stop-color="rgb(94,201,98)"/><stop offset="0.7812" stop-color="rgb(112,207,87)"/><stop offset="0.8125" stop-color="rgb(132,212,75)"/><stop offset="0.8438" stop-color="rgb(152,216,62)"/><stop offset="0.8750" stop-color="rgb(173,220,48)"/><stop offset="0.9062" stop-color="rgb(194,223,35)"/><stop offset="0.9375" stop-color="rgb(216,226,25)"/><stop offset="0.9688" stop-color="rgb(236,229,27)"/><stop offset="1.0000" stop-color="rgb(253,231,37)"/></linearGradient></defs>
<rect x="1169.5" y="30.5" width="27.0" height="531.0" fill="url(#vir)" stroke="#000" stroke-width="1.11"/>
<line x1="1196.5" y1="66.5" x2="1199.5" y2="66.5" stroke="#000" stroke-width="0.89"/><text y="73.1" font-size="15.0"><tspan x="1204.2">5</tspan><tspan x="1215.4" y="74.1" font-size="18.5">×</tspan><tspan x="1229.3" y="73.1">10</tspan><tspan x="1246.8" y="67.8" font-size="10.5">9</tspan></text>
<line x1="1196.5" y1="230.5" x2="1199.5" y2="230.5" stroke="#000" stroke-width="0.89"/><text y="237.1" font-size="15.0"><tspan x="1204.2">4</tspan><tspan x="1215.4" y="238.1" font-size="18.5">×</tspan><tspan x="1229.3" y="237.1">10</tspan><tspan x="1246.8" y="231.8" font-size="10.5">9</tspan></text>
<line x1="1196.5" y1="442.5" x2="1199.5" y2="442.5" stroke="#000" stroke-width="0.89"/><text y="449.1" font-size="15.0"><tspan x="1204.2">3</tspan><tspan x="1215.4" y="450.1" font-size="18.5">×</tspan><tspan x="1229.3" y="449.1">10</tspan><tspan x="1246.8" y="443.8" font-size="10.5">9</tspan></text>
<rect x="1406.5" y="30.5" width="1266.0" height="531.0" fill="none" stroke="#000" stroke-width="1.11"/>
<line x1="1461.5" y1="561.5" x2="1461.5" y2="566.4" stroke="#000" stroke-width="1.11"/><text x="1461.5" y="582.3" font-size="15.0" text-anchor="middle">1419.0</text>
<line x1="1626.5" y1="561.5" x2="1626.5" y2="566.4" stroke="#000" stroke-width="1.11"/><text x="1626.5" y="582.3" font-size="15.0" text-anchor="middle">1419.5</text>
<line x1="1791.5" y1="561.5" x2="1791.5" y2="566.4" stroke="#000" stroke-width="1.11"/><text x="1791.5" y="582.3" font-size="15.0" text-anchor="middle">1420.0</text>
<line x1="1956.5" y1="561.5" x2="1956.5" y2="566.4" stroke="#000" stroke-width="1.11"/><text x="1956.5" y="582.3" font-size="15.0" text-anchor="middle">1420.5</text>
<line x1="2121.5" y1="561.5" x2="2121.5" y2="566.4" stroke="#000" stroke-width="1.11"/><text x="2121.5" y="582.3" font-size="15.0" text-anchor="middle">1421.0</text>
<line x1="2286.5" y1="561.5" x2="2286.5" y2="566.4" stroke="#000" stroke-width="1.11"/><text x="2286.5" y="582.3" font-size="15.0" text-anchor="middle">1421.5</text>
<line x1="2451.5" y1="561.5" x2="2451.5" y2="566.4" stroke="#000" stroke-width="1.11"/><text x="2451.5" y="582.3" font-size="15.0" text-anchor="middle">1422.0</text>
<line x1="2616.5" y1="561.5" x2="2616.5" y2="566.4" stroke="#000" stroke-width="1.11"/><text x="2616.5" y="582.3" font-size="15.0" text-anchor="middle">1422.5</text>
<line x1="1401.6" y1="529.5" x2="1406.5" y2="529.5" stroke="#000" stroke-width="1.11"/><text x="1395.9" y="535.3" font-size="15.0" text-anchor="end">3.4</text>
<line x1="1401.6" y1="445.5" x2="1406.5" y2="445.5" stroke="#000" stroke-width="1.11"/><text x="1395.9" y="451.3" font-size="15.0" text-anchor="end">3.6</text>
<line x1="1401.6" y1="361.5" x2="1406.5" y2="361.5" stroke="#000" stroke-width="1.11"/><text x="1395.9" y="367.3" font-size="15.0" text-anchor="end">3.8</text>
<line x1="1401.6" y1="277.5" x2="1406.5" y2="277.5" stroke="#000" stroke-width="1.11"/><text x="1395.9" y="283.3" font-size="15.0" text-anchor="end">4.0</text>
<line x1="1401.6" y1="193.5" x2="1406.5" y2="193.5" stroke="#000" stroke-width="1.11"/><text x="1395.9" y="199.3" font-size="15.0" text-anchor="end">4.2</text>
<line x1="1401.6" y1="110.5" x2="1406.5" y2="110.5" stroke="#000" stroke-width="1.11"/><text x="1395.9" y="116.3" font-size="15.0" text-anchor="end">4.4</text>
<text x="1405.6" y="26.2" font-size="15.0">1e9</text>
<polyline points="1463.7,521.4 1469.2,527.0 1474.8,515.2 1480.3,530.1 1485.8,530.1 1491.4,529.8 1496.9,527.9 1502.4,531.3 1508.0,529.4 1513.5,531.9 1519.0,531.3 1524.6,446.2 1530.1,529.4 1535.6,529.1 1541.2,529.4 1546.7,528.5 1552.2,530.1 1557.8,505.2 1563.3,525.4 1568.8,530.4 1574.4,531.3 1579.9,533.5 1585.4,530.7 1590.9,529.1 1596.5,533.2 1602.0,530.7 1607.5,531.9 1613.1,533.2 1618.6,530.4 1624.1,174.2 1629.7,533.2 1635.2,530.7 1640.7,523.2 1646.3,531.3 1651.8,531.6 1657.3,527.0 1662.9,521.4 1668.4,505.2 1673.9,532.5 1679.5,532.5 1685.0,527.0 1690.5,533.2 1696.1,533.8 1701.6,531.3 1707.1,492.2 1712.7,533.2 1718.2,480.4 1723.7,536.3 1729.3,535.3 1734.8,534.4 1740.3,536.0 1745.9,535.7 1751.4,535.3 1756.9,534.7 1762.5,535.7 1768.0,536.0 1773.5,535.7 1779.1,531.9 1784.6,534.7 1790.1,531.0 1795.7,531.9 1801.2,535.3 1806.7,533.8 1812.2,532.5 1817.8,450.2 1823.3,535.3 1828.8,534.4 1834.4,531.6 1839.9,534.7 1845.4,523.2 1851.0,530.7 1856.5,533.8 1862.0,531.6 1867.6,526.0 1873.1,529.8 1878.6,530.1 1884.2,532.5 1889.7,532.5 1895.2,511.4 1900.8,533.5 1906.3,531.9 1911.8,533.8 1917.4,535.0 1922.9,531.3 1928.4,535.7 1934.0,531.0 1939.5,535.0 1945.0,533.8 1950.6,533.8 1956.1,535.0 1961.6,534.7 1967.2,534.7 1972.7,524.2 1978.2,533.2 1983.8,530.1 1989.3,532.2 1994.8,532.5 2000.4,533.2 2005.9,207.2 2011.4,450.0 2017.0,533.2 2022.5,534.7 2028.0,534.1 2033.5,531.6 2039.1,536.0 2044.6,536.3 2050.1,536.0 2055.7,532.5 2061.2,535.7 2066.7,534.7 2072.3,533.5 2077.8,519.2 2083.3,532.2 2088.9,533.5 2094.4,534.7 2099.9,532.5 2105.5,54.3 2111.0,534.7 2116.5,508.3 2122.1,512.4 2127.6,534.4 2133.1,535.3 2138.7,536.3 2144.2,536.3 2149.7,532.2 2155.3,536.3 2160.8,536.3 2166.3,528.5 2171.9,536.6 2177.4,534.1 2182.9,532.9 2188.5,535.7 2194.0,533.2 2199.5,380.2 2205.1,532.2 2210.6,535.0 2216.1,535.3 2221.7,533.8 2227.2,518.3 2232.7,536.3 2238.2,535.0 2243.8,534.7 2249.3,536.0 2254.8,534.7 2260.4,527.0 2265.9,531.0 2271.4,532.2 2277.0,525.4 2282.5,528.2 2288.0,514.5 2293.6,524.5 2299.1,457.4 2304.6,522.3 2310.2,511.7 2315.7,520.1 2321.2,518.3 2326.8,519.8 2332.3,519.2 2337.8,451.5 2343.4,513.6 2348.9,521.4 2354.4,522.9 2360.0,515.5 2365.5,526.3 2371.0,511.4 2376.6,527.6 2382.1,529.4 2387.6,528.5 2393.2,458.0 2398.7,207.3 2404.2,525.4 2409.8,527.6 2415.3,526.0 2420.8,516.1 2426.4,523.9 2431.9,525.7 2437.4,527.3 2443.0,528.8 2448.5,530.1 2454.0,516.1 2459.6,529.4 2465.1,528.5 2470.6,526.0 2476.1,530.4 2481.7,526.0 2487.2,530.1 2492.7,362.1 2498.3,520.7 2503.8,517.6 2509.3,525.4 2514.9,523.9 2520.4,523.9 2525.9,522.6 2531.5,510.5 2537.0,492.2 2542.5,520.1 2548.1,520.4 2553.6,514.5 2559.1,521.4 2564.7,472.9 2570.2,516.1 2575.7,522.6 2581.3,523.5 2586.8,472.9 2592.3,522.9 2597.9,524.8 2603.4,525.1 2608.9,518.6 2614.5,522.9" fill="none" stroke="#1f77b4" stroke-width="2.08" stroke-linejoin="round" stroke-linecap="square"/>
<circle cx="1474.8" cy="515.2" r="4.85" fill="#ff0000"/><circle cx="1524.6" cy="446.2" r="4.85" fill="#ff0000"/><circle cx="1557.8" cy="505.2" r="4.85" fill="#ff0000"/><circle cx="1624.1" cy="174.2" r="4.85" fill="#ff0000"/><circle cx="1640.7" cy="523.2" r="4.85" fill="#ff0000"/><circle cx="1668.4" cy="505.2" r="4.85" fill="#ff0000"/><circle cx="1707.1" cy="492.2" r="4.85" fill="#ff0000"/><circle cx="1718.2" cy="480.4" r="4.85" fill="#ff0000"/><circle cx="1817.8" cy="450.2" r="4.85" fill="#ff0000"/><circle cx="1845.4" cy="523.2" r="4.85" fill="#ff0000"/><circle cx="1972.7" cy="524.2" r="4.85" fill="#ff0000"/><circle cx="2005.9" cy="207.2" r="4.85" fill="#ff0000"/><circle cx="2077.8" cy="519.2" r="4.85" fill="#ff0000"/><circle cx="2105.5" cy="54.3" r="4.85" fill="#ff0000"/><circle cx="2116.5" cy="508.3" r="4.85" fill="#ff0000"/><circle cx="2122.1" cy="512.4" r="4.85" fill="#ff0000"/><circle cx="2166.3" cy="528.5" r="4.85" fill="#ff0000"/><circle cx="2199.5" cy="380.2" r="4.85" fill="#ff0000"/><circle cx="2227.2" cy="518.3" r="4.85" fill="#ff0000"/><circle cx="2288.0" cy="514.5" r="4.85" fill="#ff0000"/><circle cx="2299.1" cy="457.4" r="4.85" fill="#ff0000"/><circle cx="2310.2" cy="511.7" r="4.85" fill="#ff0000"/><circle cx="2337.8" cy="451.5" r="4.85" fill="#ff0000"/><circle cx="2371.0" cy="511.4" r="4.85" fill="#ff0000"/><circle cx="2393.2" cy="458.0" r="4.85" fill="#ff0000"/><circle cx="2398.7" cy="207.3" r="4.85" fill="#ff0000"/><circle cx="2420.8" cy="516.1" r="4.85" fill="#ff0000"/><circle cx="2454.0" cy="516.1" r="4.85" fill="#ff0000"/><circle cx="2492.7" cy="362.1" r="4.85" fill="#ff0000"/><circle cx="2531.5" cy="510.5" r="4.85" fill="#ff0000"/><circle cx="2537.0" cy="492.2" r="4.85" fill="#ff0000"/><circle cx="2564.7" cy="472.9" r="4.85" fill="#ff0000"/><circle cx="2586.8" cy="472.9" r="4.85" fill="#ff0000"/>
<rect x="2719.5" y="30.5" width="1266.0" height="531.0" fill="none" stroke="#000" stroke-width="1.11"/>
<line x1="2776.5" y1="561.5" x2="2776.5" y2="566.4" stroke="#000" stroke-width="1.11"/><text x="2776.5" y="582.3" font-size="15.0" text-anchor="middle">0</text>
<line x1="2919.5" y1="561.5" x2="2919.5" y2="566.4" stroke="#000" stroke-width="1.11"/><text x="2919.5" y="582.3" font-size="15.0" text-anchor="middle">100</text>
<line x1="3063.5" y1="561.5" x2="3063.5" y2="566.4" stroke="#000" stroke-width="1.11"/><text x="3063.5" y="582.3" font-size="15.0" text-anchor="middle">200</text>
<line x1="3206.5" y1="561.5" x2="3206.5" y2="566.4" stroke="#000" stroke-width="1.11"/><text x="3206.5" y="582.3" font-size="15.0" text-anchor="middle">300</text>
<line x1="3350.5" y1="561.5" x2="3350.5" y2="566.4" stroke="#000" stroke-width="1.11"/><text x="3350.5" y="582.3" font-size="15.0" text-anchor="middle">400</text>
<line x1="3493.5" y1="561.5" x2="3493.5" y2="566.4" stroke="#000" stroke-width="1.11"/><text x="3493.5" y="582.3" font-size="15.0" text-anchor="middle">500</text>
<line x1="3636.5" y1="561.5" x2="3636.5" y2="566.4" stroke="#000" stroke-width="1.11"/><text x="3636.5" y="582.3" font-size="15.0" text-anchor="middle">600</text>
<line x1="3780.5" y1="561.5" x2="3780.5" y2="566.4" stroke="#000" stroke-width="1.11"/><text x="3780.5" y="582.3" font-size="15.0" text-anchor="middle">700</text>
<line x1="3923.5" y1="561.5" x2="3923.5" y2="566.4" stroke="#000" stroke-width="1.11"/><text x="3923.5" y="582.3" font-size="15.0" text-anchor="middle">800</text>
<line x1="2714.6" y1="529.5" x2="2719.5" y2="529.5" stroke="#000" stroke-width="1.11"/><text x="2708.9" y="535.3" font-size="15.0" text-anchor="end">2.6</text>
<line x1="2714.6" y1="455.5" x2="2719.5" y2="455.5" stroke="#000" stroke-width="1.11"/><text x="2708.9" y="461.3" font-size="15.0" text-anchor="end">2.8</text>
<line x1="2714.6" y1="381.5" x2="2719.5" y2="381.5" stroke="#000" stroke-width="1.11"/><text x="2708.9" y="387.3" font-size="15.0" text-anchor="end">3.0</text>
<line x1="2714.6" y1="307.5" x2="2719.5" y2="307.5" stroke="#000" stroke-width="1.11"/><text x="2708.9" y="313.3" font-size="15.0" text-anchor="end">3.2</text>
<line x1="2714.6" y1="233.5" x2="2719.5" y2="233.5" stroke="#000" stroke-width="1.11"/><text x="2708.9" y="239.3" font-size="15.0" text-anchor="end">3.4</text>
<line x1="2714.6" y1="158.5" x2="2719.5" y2="158.5" stroke="#000" stroke-width="1.11"/><text x="2708.9" y="164.3" font-size="15.0" text-anchor="end">3.6</text>
<line x1="2714.6" y1="84.5" x2="2719.5" y2="84.5" stroke="#000" stroke-width="1.11"/><text x="2708.9" y="90.3" font-size="15.0" text-anchor="end">3.8</text>
<text x="2718.6" y="26.2" font-size="15.0">1e9</text>
<polyline points="2776.1,329.2 2780.8,300.6 2781.7,333.9 2783.3,350.9 2784.8,352.4 2786.1,389.7 2787.3,402.1 2788.6,383.5 2790.4,408.9 2792.0,381.9 2793.5,406.8 2794.8,420.1 2796.3,417.6 2797.9,428.5 2799.4,447.1 2800.4,481.9 2801.6,482.5 2803.2,511.4 2804.7,537.2 2806.3,511.4 2807.8,471.1 2809.7,446.2 2811.9,421.4 2813.4,423.9 2814.7,433.2 2816.2,399.0 2817.8,371.1 2819.0,345.6 2820.2,352.4 2821.8,380.4 2823.4,354.9 2825.2,353.0 2827.4,351.8 2828.6,355.5 2830.2,377.3 2832.0,388.1 2833.9,377.3 2836.1,360.2 2837.6,371.1 2839.2,355.5 2840.9,317.2 2842.5,319.7 2845.6,316.0 2847.5,304.8 2849.0,310.4 2850.2,311.9 2851.8,298.6 2853.0,301.1 2854.9,332.1 2856.5,330.6 2857.7,328.4 2859.3,372.5 2861.7,332.1 2863.3,346.1 2864.8,347.0 2866.4,380.2 2868.0,347.6 2869.5,290.2 2872.3,285.0 2874.2,292.4 2876.3,279.4 2877.9,282.5 2879.4,294.3 2881.0,273.2 2883.2,245.2 2885.0,273.2 2886.6,280.9 2888.1,273.2 2890.6,248.9 2892.2,254.5 2893.7,273.2 2895.3,291.8 2896.5,287.1 2897.8,301.1 2899.6,306.6 2901.2,312.9 2902.7,304.2 2904.0,293.3 2905.2,306.6 2906.8,307.9 2908.9,279.4 2910.8,271.6 2912.4,280.9 2913.9,244.6 2916.4,270.1 2918.0,246.8 2919.5,240.6 2921.4,238.1 2922.9,245.2 2924.2,299.5 2925.4,306.6 2927.0,299.5 2928.2,342.0 2929.4,309.8 2931.0,302.6 2932.2,319.1 2933.8,310.4 2934.7,270.1 2936.0,260.7 2938.1,258.3 2939.4,265.4 2940.9,304.8 2942.5,273.2 2944.0,260.1 2945.0,263.9 2946.2,284.0 2947.8,253.6 2949.0,279.4 2950.2,257.6 2951.8,285.6 2953.7,259.2 2954.9,282.5 2956.5,265.4 2957.7,273.2 2958.9,310.4 2961.1,361.6 2962.4,309.8 2963.6,308.8 2965.2,284.0 2968.0,279.4 2969.5,263.9 2971.4,284.0 2972.9,270.1 2974.5,229.7 2976.6,217.9 2978.2,229.7 2979.8,247.7 2981.3,229.7 2983.5,214.2 2985.3,201.1 2986.9,214.2 2988.4,232.8 2990.0,239.9 2991.6,263.2 2992.8,278.7 2994.7,267.8 2996.5,244.5 2998.4,225.9 2999.9,249.2 3001.2,250.7 3002.7,270.9 3004.6,264.7 3005.8,263.2 3007.1,249.2 3008.6,264.7 3010.2,269.4 3011.4,306.6 3012.7,315.9 3014.2,309.7 3015.8,333.0 3017.3,339.2 3018.6,347.0 3020.1,334.5 3022.0,325.2 3023.9,320.6 3025.4,291.1 3026.6,289.5 3028.2,281.7 3029.8,319.0 3031.3,292.6 3032.9,286.4 3034.4,284.8 3035.7,267.8 3037.2,297.3 3038.4,331.4 3039.7,360.9 3041.2,362.5 3042.8,374.3 3044.3,359.4 3045.6,342.3 3046.8,356.3 3048.4,371.8 3049.6,340.7 3051.2,302.9 3052.4,314.3 3053.7,308.1 3055.2,314.3 3056.5,324.6 3057.7,317.5 3058.6,320.6 3059.9,357.8 3061.4,331.4 3062.7,343.9 3063.9,331.4 3065.5,315.9 3066.7,281.7 3068.0,275.5 3068.6,272.5 3069.8,260.1 3071.4,245.5 3072.6,248.3 3074.2,272.5 3075.7,268.8 3077.3,260.1 3078.8,247.6 3080.1,233.7 3081.6,247.6 3083.2,257.6 3084.7,257.9 3086.0,261.6 3087.5,260.1 3089.1,268.8 3090.3,257.0 3091.6,240.5 3092.8,263.2 3094.0,277.1 3095.9,284.2 3097.5,292.6 3099.0,319.0 3100.2,291.1 3101.8,270.9 3103.0,306.6 3104.3,323.0 3105.8,312.8 3107.4,303.5 3108.6,303.5 3110.5,269.4 3111.7,253.9 3113.3,241.4 3114.8,258.5 3116.1,262.5 3117.3,246.7 3118.6,270.9 3120.1,236.8 3121.7,202.0 3122.9,215.7 3124.5,213.5 3126.0,190.2 3127.6,188.6 3128.8,232.1 3130.4,234.6 3131.9,252.3 3133.2,241.4 3134.7,236.8 3136.0,263.2 3137.5,294.8 3139.1,287.3 3140.6,289.5 3141.9,287.3 3143.1,294.2 3144.3,263.2 3145.9,249.2 3147.5,235.0 3149.0,241.2 3150.2,256.8 3151.8,273.9 3153.0,249.6 3154.6,271.4 3156.1,270.1 3157.7,275.4 3159.3,219.5 3160.5,215.8 3162.0,220.4 3163.3,221.1 3164.8,189.1 3166.1,221.1 3167.3,239.7 3168.9,235.0 3170.1,222.6 3171.7,241.2 3172.9,249.0 3174.2,252.1 3175.4,261.4 3176.6,264.5 3177.9,280.1 3179.1,283.2 3180.4,290.9 3181.6,256.8 3183.2,230.4 3184.7,249.0 3186.0,227.3 3187.5,213.3 3189.1,224.2 3190.3,236.6 3191.6,221.1 3193.1,185.4 3194.3,194.7 3195.9,188.5 3197.5,159.0 3199.0,166.8 3200.9,160.6 3203.4,154.3 3204.9,134.8 3206.1,149.7 3207.4,148.1 3208.9,177.6 3210.5,157.5 3212.0,166.8 3213.3,155.9 3214.5,157.5 3216.1,174.5 3217.6,183.9 3218.9,151.2 3220.7,135.7 3222.0,162.1 3223.2,154.3 3224.8,179.2 3227.6,235.0 3228.8,208.6 3230.1,195.7 3231.0,192.5 3232.5,196.9 3233.8,198.8 3235.0,156.8 3236.6,183.2 3237.8,184.5 3239.4,168.3 3240.6,157.5 3242.2,176.1 3243.4,166.8 3245.0,196.3 3246.2,165.2 3247.5,164.6 3249.0,143.5 3250.6,128.0 3252.1,122.4 3253.7,128.0 3255.2,143.5 3256.8,154.3 3258.0,168.3 3259.6,152.8 3260.8,159.0 3262.4,148.1 3263.9,143.5 3265.5,146.6 3266.7,141.9 3268.0,148.1 3269.2,134.2 3270.7,137.3 3272.3,126.4 3273.9,134.2 3275.1,118.6 3276.6,119.3 3278.2,129.5 3279.8,138.8 3281.3,126.4 3282.9,117.1 3284.1,131.1 3285.3,141.9 3286.6,126.4 3287.8,138.8 3289.4,121.7 3290.0,101.8 3291.2,94.0 3292.8,90.9 3294.0,83.1 3295.3,75.4 3296.5,84.7 3297.8,83.1 3299.3,101.8 3301.2,124.4 3302.4,118.9 3303.7,71.6 3304.9,95.6 3306.5,98.7 3307.7,128.2 3309.3,174.1 3310.5,168.5 3312.4,163.8 3313.6,143.6 3315.5,120.4 3317.0,145.2 3318.6,149.8 3319.5,157.6 3320.7,116.4 3322.3,131.3 3323.9,165.4 3325.1,159.2 3326.6,160.7 3327.9,177.8 3329.4,191.8 3330.7,154.5 3331.9,154.5 3334.1,138.1 3335.7,146.8 3336.9,165.4 3338.1,180.9 3339.7,138.1 3340.9,157.6 3342.2,178.4 3343.4,159.2 3344.3,137.5 3345.9,112.6 3347.1,100.8 3348.4,106.4 3349.6,89.3 3350.9,87.2 3352.1,69.2 3353.7,55.2 3355.2,54.3 3356.5,81.6 3358.0,106.4 3359.3,128.2 3360.5,154.8 3361.4,147.4 3362.7,166.0 3363.9,156.1 3365.5,126.6 3366.7,153.0 3368.3,146.8 3369.5,155.4 3371.1,156.1 3372.6,140.6 3374.2,128.2 3375.7,120.4 3377.3,131.3 3378.5,129.7 3379.8,137.5 3381.0,140.6 3382.5,134.4 3383.8,135.9 3385.3,135.0 3386.6,162.9 3387.5,151.5 3388.8,153.0 3389.7,173.1 3391.2,140.6 3392.8,139.0 3394.0,140.6 3395.6,132.8 3396.8,159.2 3398.4,162.9 3399.6,163.8 3400.9,154.5 3402.4,149.9 3403.7,156.1 3404.9,143.7 3406.5,146.2 3407.7,140.6 3408.9,142.1 3410.2,112.6 3411.4,137.5 3413.0,126.6 3414.8,120.4 3416.7,114.2 3418.3,101.8 3419.8,90.9 3421.1,123.5 3422.6,125.7 3424.2,115.7 3425.4,114.2 3427.0,116.4 3428.2,114.2 3429.8,91.5 3431.3,97.1 3432.5,101.8 3433.8,106.4 3435.3,135.0 3436.9,120.4 3438.4,131.3 3439.7,143.7 3441.2,144.3 3442.5,162.3 3444.0,146.8 3445.3,155.4 3446.5,140.6 3447.8,129.7 3449.0,128.2 3449.6,133.7 3451.2,133.7 3452.4,135.2 3454.0,160.1 3455.5,132.1 3457.1,121.9 3458.6,132.1 3459.9,133.7 3461.1,146.1 3462.4,135.2 3464.2,132.1 3465.8,149.2 3467.3,158.5 3468.6,164.1 3470.1,152.3 3471.7,144.5 3472.9,129.0 3474.2,122.8 3475.7,108.8 3477.3,107.3 3478.5,132.1 3479.8,158.5 3481.3,143.0 3482.9,141.4 3484.4,133.7 3485.7,126.8 3487.2,141.4 3488.4,146.1 3489.7,153.9 3491.2,158.5 3492.5,155.4 3494.0,141.4 3495.6,171.9 3497.1,141.4 3498.7,114.1 3499.9,113.5 3501.5,130.6 3503.0,113.5 3504.3,111.3 3505.5,122.8 3506.8,108.8 3508.6,106.6 3510.5,107.9 3512.0,110.4 3513.6,119.7 3514.8,127.5 3516.1,132.1 3517.3,149.2 3518.6,146.1 3520.1,153.9 3521.4,165.7 3522.6,142.0 3524.2,139.9 3525.7,143.0 3527.3,139.9 3528.8,131.5 3530.4,129.0 3531.6,158.5 3532.9,157.0 3534.1,180.2 3535.3,175.6 3536.6,178.1 3537.5,186.5 3538.8,163.2 3540.3,155.4 3541.6,141.4 3543.1,130.6 3544.3,150.7 3545.6,132.1 3547.1,128.4 3548.4,169.4 3549.9,160.7 3551.2,186.6 3552.7,184.8 3554.0,182.6 3554.9,184.8 3556.1,194.1 3557.4,181.1 3558.9,188.8 3560.2,191.0 3561.4,169.4 3563.0,169.4 3564.2,183.4 3565.5,166.3 3567.0,139.9 3568.6,135.8 3570.1,136.8 3571.4,163.2 3572.9,166.3 3574.2,169.4 3575.7,178.7 3577.0,175.6 3578.5,133.0 3579.8,163.2 3581.3,188.8 3582.9,191.9 3584.1,182.6 3585.3,169.4 3586.6,166.3 3587.8,167.8 3589.1,153.2 3590.6,163.2 3592.2,169.4 3593.4,175.6 3594.7,212.1 3596.2,201.4 3597.8,189.0 3599.6,173.5 3601.8,160.1 3603.0,198.3 3604.6,210.1 3606.1,195.8 3607.4,198.9 3608.6,196.8 3610.2,210.7 3611.7,189.0 3613.3,188.4 3614.8,167.3 3616.4,144.0 3618.0,152.4 3619.5,162.6 3621.1,170.4 3622.6,178.1 3624.2,185.9 3625.7,189.0 3626.6,195.8 3627.9,192.1 3629.1,198.9 3630.7,195.2 3632.2,218.5 3633.5,212.3 3634.7,217.6 3636.0,241.2 3637.5,239.3 3638.8,195.2 3640.3,219.4 3641.6,210.7 3642.8,196.8 3644.3,181.2 3645.9,193.7 3647.1,181.2 3648.4,188.4 3649.9,190.6 3651.2,182.8 3652.1,166.6 3653.7,189.0 3654.9,207.0 3656.1,192.1 3657.4,202.0 3658.6,193.7 3660.2,209.2 3662.0,228.8 3663.3,204.5 3664.5,198.3 3666.1,174.4 3667.6,195.2 3668.9,192.1 3670.1,193.7 3671.4,213.2 3672.3,220.1 3673.9,213.9 3675.4,223.2 3676.6,235.0 3678.2,238.7 3679.8,247.4 3681.3,223.2 3682.9,210.7 3684.1,203.0 3685.3,209.2 3686.6,181.2 3688.1,204.5 3689.4,207.6 3690.6,218.5 3692.2,199.9 3693.4,210.7 3694.7,235.6 3695.9,249.9 3697.1,227.8 3698.1,212.3 3699.3,244.9 3700.9,227.8 3702.4,220.1 3703.7,213.9 3705.2,226.3 3706.8,213.9 3708.0,190.6 3709.6,173.5 3710.8,190.6 3712.0,213.9 3713.6,232.5 3714.8,220.1 3716.1,215.4 3717.3,213.9 3718.3,252.7 3719.8,210.7 3721.1,235.6 3722.3,232.5 3723.9,230.9 3725.1,198.3 3726.6,174.4 3727.9,199.9 3729.1,185.9 3730.4,189.0 3731.6,201.4 3732.9,215.4 3733.8,187.5 3735.0,195.2 3736.3,204.5 3737.5,207.6 3738.8,232.5 3740.0,261.4 3741.2,262.0 3743.4,223.1 3744.0,204.5 3745.3,225.6 3746.5,179.0 3748.1,171.2 3749.6,168.1 3751.2,166.6 3752.4,188.3 3753.7,173.4 3755.2,180.6 3756.8,191.4 3758.3,205.4 3759.6,228.7 3760.8,219.4 3762.4,222.5 3763.9,191.4 3765.5,200.7 3766.7,217.8 3768.0,214.7 3769.2,219.4 3770.4,216.9 3771.7,228.6 3772.6,250.4 3773.9,231.7 3775.1,211.6 3776.3,220.9 3777.9,182.1 3779.4,158.8 3781.0,185.2 3782.5,213.2 3784.1,222.5 3785.3,228.7 3786.9,213.2 3788.1,253.5 3789.7,275.8 3791.2,256.6 3792.5,247.9 3793.7,262.2 3795.0,261.2 3796.2,244.2 3797.5,223.0 3799.0,246.6 3800.2,231.7 3801.5,239.5 3803.0,234.8 3804.6,217.8 3806.1,216.9 3808.0,204.5 3809.6,213.2 3811.1,225.6 3812.4,236.4 3813.9,219.3 3815.2,229.3 3816.7,251.9 3818.0,243.5 3819.5,244.2 3821.1,264.3 3822.6,283.6 3824.2,265.9 3825.7,255.0 3827.0,245.7 3828.2,250.4 3829.8,216.8 3831.6,215.7 3833.2,210.1 3835.0,200.7 3836.6,191.4 3838.1,193.0 3839.7,175.9 3841.2,160.4 3842.8,132.4 3844.3,166.6 3845.9,186.8 3847.5,191.4 3848.7,191.4 3850.2,179.0 3851.8,189.9 3853.0,194.5 3854.6,183.7 3856.1,197.6 3857.4,219.4 3858.6,207.0 3859.9,193.0 3861.1,196.1 3862.7,219.4 3864.2,256.0 3865.8,240.4 3867.0,224.2 3868.3,234.2 3869.5,227.3 3871.1,236.6 3872.3,237.9 3873.9,232.6 3875.1,246.6 3876.3,260.6 3877.6,237.9 3878.8,262.1 3879.8,283.9 3881.3,239.8 3882.5,265.2 3883.8,243.5 3885.0,254.3 3886.3,263.7 3887.5,273.0 3888.8,272.0 3890.0,246.0 3891.2,249.7 3892.5,262.1 3893.7,283.9 3895.3,297.8 3896.8,280.7 3898.4,259.0 3899.6,252.8 3901.2,251.2 3902.7,246.0 3904.0,262.1 3905.2,249.7 3906.5,280.1 3907.7,279.2 3908.9,290.1 3910.2,301.9 3911.4,283.9 3912.7,268.3 3913.9,265.2 3915.5,239.8 3917.0,254.3 3918.3,273.0 3919.5,259.0 3921.1,257.5 3922.3,259.0 3923.5,266.8 3924.8,285.4 3926.0,303.1 3927.3,293.2 3928.5,293.2" fill="none" stroke="#1f77b4" stroke-width="2.08" stroke-linejoin="round" stroke-linecap="square"/>
</svg>
</body></html>
